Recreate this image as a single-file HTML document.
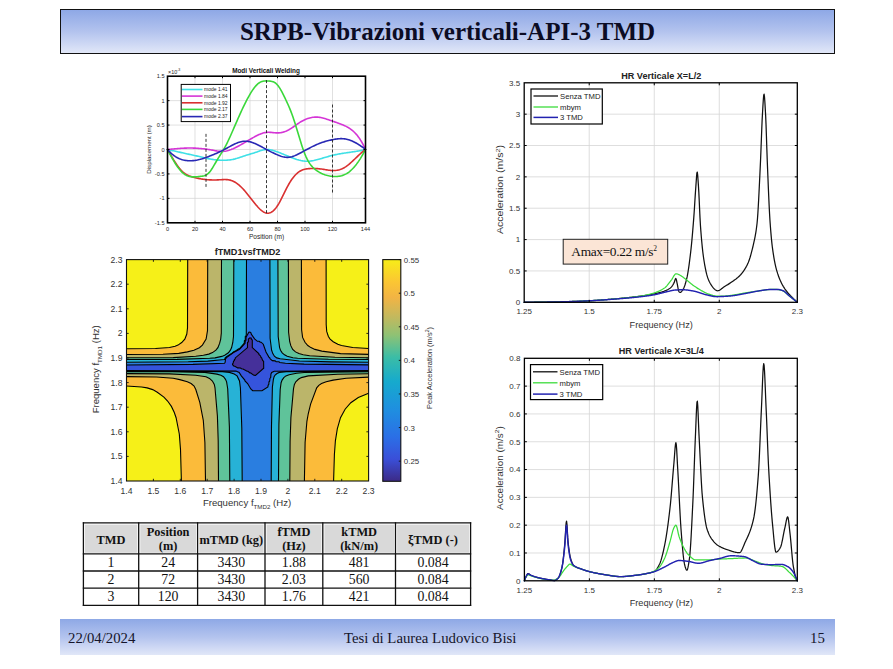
<!DOCTYPE html>
<html><head><meta charset="utf-8"><style>
html,body{margin:0;padding:0;background:#fff;}
#page{position:relative;width:893px;height:669px;overflow:hidden;background:#fff;}
.bar{position:absolute;left:60px;width:775px;background:linear-gradient(to bottom,#8ea8e6 0%,#b3c3ee 50%,#e1e7f8 100%);}
#title{top:9px;height:45px;box-sizing:border-box;border:1.6px solid #111;}
#title span{position:absolute;left:0;right:0;top:7.5px;text-align:center;font:bold 25px "Liberation Serif",serif;color:#0c0c24;line-height:28px;}
#footer{top:619px;height:36px;}
#footer span{position:absolute;top:10px;font:14.8px "Liberation Serif",serif;color:#15152a;line-height:18px;}
svg{position:absolute;left:0;top:0;}
</style></head><body><div id="page">
<div class="bar" id="title"><span>SRPB-Vibrazioni verticali-API-3 TMD</span></div>
<div class="bar" id="footer"><span style="left:8px">22/04/2024</span><span style="left:284px">Tesi di Laurea Ludovico Bisi</span><span style="left:750px">15</span></div>
<svg width="893" height="669" viewBox="0 0 893 669">
<rect x="167.5" y="76.2" width="198.0" height="146.60000000000002" fill="#fff"/>
<line x1="195" y1="76.2" x2="195" y2="222.8" stroke="#d2d2d2" stroke-width="0.7"/>
<line x1="222.5" y1="76.2" x2="222.5" y2="222.8" stroke="#d2d2d2" stroke-width="0.7"/>
<line x1="250" y1="76.2" x2="250" y2="222.8" stroke="#d2d2d2" stroke-width="0.7"/>
<line x1="277.5" y1="76.2" x2="277.5" y2="222.8" stroke="#d2d2d2" stroke-width="0.7"/>
<line x1="305" y1="76.2" x2="305" y2="222.8" stroke="#d2d2d2" stroke-width="0.7"/>
<line x1="332.5" y1="76.2" x2="332.5" y2="222.8" stroke="#d2d2d2" stroke-width="0.7"/>
<line x1="167.5" y1="198.37" x2="365.5" y2="198.37" stroke="#d2d2d2" stroke-width="0.7"/>
<line x1="167.5" y1="173.93" x2="365.5" y2="173.93" stroke="#d2d2d2" stroke-width="0.7"/>
<line x1="167.5" y1="149.5" x2="365.5" y2="149.5" stroke="#d2d2d2" stroke-width="0.7"/>
<line x1="167.5" y1="125.07" x2="365.5" y2="125.07" stroke="#d2d2d2" stroke-width="0.7"/>
<line x1="167.5" y1="100.63" x2="365.5" y2="100.63" stroke="#d2d2d2" stroke-width="0.7"/>
<path d="M167.5,149.5 L168.49,149.72 L169.49,149.94 L170.48,150.16 L171.48,150.38 L172.47,150.6 L173.47,150.82 L174.46,151.04 L175.46,151.26 L176.45,151.49 L177.45,151.71 L178.44,151.93 L179.44,152.15 L180.43,152.38 L181.43,152.6 L182.42,152.82 L183.42,153.04 L184.41,153.27 L185.41,153.49 L186.4,153.71 L187.4,153.93 L188.39,154.14 L189.39,154.36 L190.38,154.58 L191.38,154.8 L192.37,155.01 L193.37,155.23 L194.36,155.44 L195.36,155.66 L196.35,155.88 L197.35,156.11 L198.34,156.33 L199.34,156.56 L200.33,156.79 L201.33,157.03 L202.32,157.27 L203.32,157.51 L204.31,157.74 L205.31,157.98 L206.3,158.21 L207.3,158.44 L208.29,158.65 L209.29,158.86 L210.28,159.05 L211.28,159.24 L212.27,159.4 L213.27,159.55 L214.26,159.69 L215.26,159.81 L216.25,159.91 L217.25,160 L218.24,160.08 L219.24,160.14 L220.23,160.19 L221.23,160.22 L222.22,160.25 L223.22,160.26 L224.21,160.25 L225.21,160.23 L226.2,160.2 L227.2,160.14 L228.19,160.07 L229.19,159.97 L230.18,159.85 L231.18,159.71 L232.17,159.54 L233.17,159.35 L234.16,159.12 L235.16,158.87 L236.15,158.59 L237.15,158.3 L238.14,157.98 L239.14,157.66 L240.13,157.33 L241.13,156.99 L242.12,156.65 L243.12,156.31 L244.11,155.98 L245.11,155.66 L246.1,155.34 L247.1,155.04 L248.09,154.74 L249.09,154.44 L250.08,154.14 L251.08,153.84 L252.07,153.54 L253.07,153.23 L254.06,152.91 L255.06,152.58 L256.05,152.24 L257.05,151.89 L258.04,151.54 L259.04,151.19 L260.03,150.86 L261.03,150.55 L262.02,150.26 L263.02,150.01 L264.01,149.8 L265.01,149.63 L266,149.53 L267,149.49 L267.99,149.51 L268.99,149.59 L269.98,149.73 L270.98,149.92 L271.97,150.14 L272.97,150.41 L273.96,150.71 L274.96,151.03 L275.95,151.38 L276.95,151.74 L277.94,152.11 L278.94,152.49 L279.93,152.87 L280.93,153.26 L281.92,153.66 L282.92,154.06 L283.91,154.46 L284.91,154.87 L285.9,155.27 L286.9,155.68 L287.89,156.09 L288.89,156.5 L289.88,156.91 L290.88,157.31 L291.87,157.71 L292.87,158.09 L293.86,158.47 L294.86,158.83 L295.85,159.17 L296.85,159.5 L297.84,159.8 L298.84,160.08 L299.83,160.33 L300.83,160.56 L301.82,160.75 L302.82,160.91 L303.81,161.04 L304.81,161.14 L305.8,161.21 L306.8,161.23 L307.79,161.23 L308.79,161.18 L309.78,161.1 L310.78,160.99 L311.77,160.85 L312.77,160.69 L313.76,160.5 L314.76,160.28 L315.75,160.05 L316.75,159.81 L317.74,159.55 L318.74,159.28 L319.73,159 L320.73,158.71 L321.72,158.42 L322.72,158.13 L323.71,157.84 L324.71,157.54 L325.7,157.24 L326.7,156.95 L327.69,156.66 L328.69,156.38 L329.68,156.1 L330.68,155.83 L331.67,155.57 L332.67,155.32 L333.66,155.09 L334.66,154.86 L335.65,154.65 L336.65,154.44 L337.64,154.25 L338.64,154.06 L339.63,153.88 L340.63,153.71 L341.62,153.54 L342.62,153.38 L343.61,153.23 L344.61,153.07 L345.6,152.93 L346.6,152.78 L347.59,152.63 L348.59,152.49 L349.58,152.35 L350.58,152.21 L351.57,152.06 L352.57,151.91 L353.56,151.77 L354.56,151.61 L355.55,151.46 L356.55,151.29 L357.54,151.13 L358.54,150.95 L359.53,150.77 L360.53,150.59 L361.52,150.39 L362.52,150.18 L363.51,149.97 L364.51,149.74 L365.5,149.5" fill="none" stroke="#3fe0e6" stroke-width="1.6" stroke-linejoin="round" stroke-linecap="round" />
<path d="M167.5,149.5 L168.49,149.41 L169.49,149.32 L170.48,149.22 L171.48,149.13 L172.47,149.04 L173.47,148.95 L174.46,148.86 L175.46,148.77 L176.45,148.69 L177.45,148.61 L178.44,148.53 L179.44,148.45 L180.43,148.38 L181.43,148.32 L182.42,148.26 L183.42,148.21 L184.41,148.16 L185.41,148.12 L186.4,148.08 L187.4,148.06 L188.39,148.04 L189.39,148.03 L190.38,148.04 L191.38,148.05 L192.37,148.06 L193.37,148.09 L194.36,148.13 L195.36,148.17 L196.35,148.22 L197.35,148.28 L198.34,148.35 L199.34,148.43 L200.33,148.51 L201.33,148.6 L202.32,148.69 L203.32,148.8 L204.31,148.91 L205.31,149.03 L206.3,149.16 L207.3,149.3 L208.29,149.44 L209.29,149.6 L210.28,149.77 L211.28,149.95 L212.27,150.14 L213.27,150.33 L214.26,150.53 L215.26,150.72 L216.25,150.9 L217.25,151.07 L218.24,151.21 L219.24,151.33 L220.23,151.41 L221.23,151.46 L222.22,151.46 L223.22,151.42 L224.21,151.32 L225.21,151.18 L226.2,150.99 L227.2,150.76 L228.19,150.49 L229.19,150.19 L230.18,149.85 L231.18,149.49 L232.17,149.09 L233.17,148.67 L234.16,148.22 L235.16,147.76 L236.15,147.27 L237.15,146.77 L238.14,146.25 L239.14,145.72 L240.13,145.17 L241.13,144.61 L242.12,144.05 L243.12,143.47 L244.11,142.89 L245.11,142.3 L246.1,141.71 L247.1,141.12 L248.09,140.52 L249.09,139.93 L250.08,139.35 L251.08,138.77 L252.07,138.19 L253.07,137.63 L254.06,137.08 L255.06,136.54 L256.05,136.02 L257.05,135.51 L258.04,135.03 L259.04,134.57 L260.03,134.15 L261.03,133.75 L262.02,133.4 L263.02,133.09 L264.01,132.82 L265.01,132.61 L266,132.45 L267,132.35 L267.99,132.31 L268.99,132.32 L269.98,132.36 L270.98,132.42 L271.97,132.51 L272.97,132.61 L273.96,132.7 L274.96,132.78 L275.95,132.85 L276.95,132.88 L277.94,132.88 L278.94,132.83 L279.93,132.73 L280.93,132.59 L281.92,132.4 L282.92,132.17 L283.91,131.89 L284.91,131.56 L285.9,131.18 L286.9,130.75 L287.89,130.27 L288.89,129.74 L289.88,129.16 L290.88,128.55 L291.87,127.9 L292.87,127.22 L293.86,126.53 L294.86,125.82 L295.85,125.12 L296.85,124.41 L297.84,123.72 L298.84,123.06 L299.83,122.41 L300.83,121.8 L301.82,121.23 L302.82,120.68 L303.81,120.18 L304.81,119.7 L305.8,119.27 L306.8,118.87 L307.79,118.51 L308.79,118.19 L309.78,117.91 L310.78,117.67 L311.77,117.48 L312.77,117.32 L313.76,117.2 L314.76,117.13 L315.75,117.1 L316.75,117.11 L317.74,117.15 L318.74,117.25 L319.73,117.38 L320.73,117.55 L321.72,117.75 L322.72,117.99 L323.71,118.25 L324.71,118.53 L325.7,118.83 L326.7,119.15 L327.69,119.48 L328.69,119.82 L329.68,120.16 L330.68,120.5 L331.67,120.84 L332.67,121.18 L333.66,121.52 L334.66,121.87 L335.65,122.22 L336.65,122.57 L337.64,122.93 L338.64,123.3 L339.63,123.67 L340.63,124.04 L341.62,124.43 L342.62,124.82 L343.61,125.24 L344.61,125.67 L345.6,126.14 L346.6,126.64 L347.59,127.17 L348.59,127.75 L349.58,128.38 L350.58,129.07 L351.57,129.81 L352.57,130.62 L353.56,131.5 L354.56,132.46 L355.55,133.5 L356.55,134.62 L357.54,135.84 L358.54,137.15 L359.53,138.56 L360.53,140.09 L361.52,141.72 L362.52,143.48 L363.51,145.35 L364.51,147.36 L365.5,149.5" fill="none" stroke="#d535d6" stroke-width="1.6" stroke-linejoin="round" stroke-linecap="round" />
<path d="M167.5,149.5 L168.49,151.23 L169.49,152.96 L170.48,154.67 L171.48,156.35 L172.47,158.01 L173.47,159.63 L174.46,161.21 L175.46,162.75 L176.45,164.22 L177.45,165.64 L178.44,166.99 L179.44,168.26 L180.43,169.45 L181.43,170.55 L182.42,171.56 L183.42,172.47 L184.41,173.28 L185.41,173.97 L186.4,174.58 L187.4,175.1 L188.39,175.55 L189.39,175.95 L190.38,176.29 L191.38,176.61 L192.37,176.9 L193.37,177.18 L194.36,177.45 L195.36,177.71 L196.35,177.95 L197.35,178.18 L198.34,178.4 L199.34,178.6 L200.33,178.79 L201.33,178.96 L202.32,179.12 L203.32,179.26 L204.31,179.39 L205.31,179.51 L206.3,179.61 L207.3,179.69 L208.29,179.77 L209.29,179.83 L210.28,179.88 L211.28,179.92 L212.27,179.94 L213.27,179.96 L214.26,179.96 L215.26,179.95 L216.25,179.94 L217.25,179.91 L218.24,179.87 L219.24,179.82 L220.23,179.77 L221.23,179.71 L222.22,179.65 L223.22,179.6 L224.21,179.57 L225.21,179.56 L226.2,179.58 L227.2,179.64 L228.19,179.75 L229.19,179.91 L230.18,180.13 L231.18,180.42 L232.17,180.78 L233.17,181.21 L234.16,181.71 L235.16,182.28 L236.15,182.91 L237.15,183.6 L238.14,184.36 L239.14,185.18 L240.13,186.06 L241.13,187 L242.12,188 L243.12,189.04 L244.11,190.14 L245.11,191.28 L246.1,192.45 L247.1,193.66 L248.09,194.89 L249.09,196.14 L250.08,197.4 L251.08,198.67 L252.07,199.94 L253.07,201.22 L254.06,202.48 L255.06,203.71 L256.05,204.92 L257.05,206.09 L258.04,207.2 L259.04,208.25 L260.03,209.23 L261.03,210.12 L262.02,210.92 L263.02,211.61 L264.01,212.19 L265.01,212.64 L266,212.97 L267,213.15 L267.99,213.19 L268.99,213.08 L269.98,212.81 L270.98,212.39 L271.97,211.8 L272.97,211.06 L273.96,210.16 L274.96,209.11 L275.95,207.89 L276.95,206.52 L277.94,205 L278.94,203.33 L279.93,201.54 L280.93,199.66 L281.92,197.7 L282.92,195.7 L283.91,193.67 L284.91,191.64 L285.9,189.63 L286.9,187.67 L287.89,185.79 L288.89,184 L289.88,182.32 L290.88,180.75 L291.87,179.29 L292.87,177.93 L293.86,176.68 L294.86,175.53 L295.85,174.48 L296.85,173.54 L297.84,172.69 L298.84,171.94 L299.83,171.28 L300.83,170.72 L301.82,170.24 L302.82,169.84 L303.81,169.51 L304.81,169.24 L305.8,169.03 L306.8,168.86 L307.79,168.74 L308.79,168.65 L309.78,168.59 L310.78,168.55 L311.77,168.52 L312.77,168.51 L313.76,168.51 L314.76,168.52 L315.75,168.55 L316.75,168.6 L317.74,168.66 L318.74,168.74 L319.73,168.84 L320.73,168.95 L321.72,169.08 L322.72,169.22 L323.71,169.38 L324.71,169.54 L325.7,169.71 L326.7,169.87 L327.69,170.02 L328.69,170.17 L329.68,170.29 L330.68,170.4 L331.67,170.47 L332.67,170.52 L333.66,170.53 L334.66,170.5 L335.65,170.43 L336.65,170.31 L337.64,170.15 L338.64,169.93 L339.63,169.67 L340.63,169.34 L341.62,168.96 L342.62,168.52 L343.61,168.01 L344.61,167.44 L345.6,166.8 L346.6,166.11 L347.59,165.37 L348.59,164.58 L349.58,163.76 L350.58,162.9 L351.57,162.01 L352.57,161.1 L353.56,160.16 L354.56,159.22 L355.55,158.27 L356.55,157.31 L357.54,156.36 L358.54,155.42 L359.53,154.49 L360.53,153.58 L361.52,152.69 L362.52,151.84 L363.51,151.02 L364.51,150.24 L365.5,149.5" fill="none" stroke="#d93030" stroke-width="1.6" stroke-linejoin="round" stroke-linecap="round" />
<path d="M167.5,149.5 L168.49,151.41 L169.49,153.3 L170.48,155.16 L171.48,156.97 L172.47,158.74 L173.47,160.45 L174.46,162.11 L175.46,163.71 L176.45,165.23 L177.45,166.68 L178.44,168.05 L179.44,169.34 L180.43,170.53 L181.43,171.62 L182.42,172.6 L183.42,173.48 L184.41,174.23 L185.41,174.88 L186.4,175.41 L187.4,175.85 L188.39,176.19 L189.39,176.46 L190.38,176.66 L191.38,176.79 L192.37,176.87 L193.37,176.91 L194.36,176.91 L195.36,176.87 L196.35,176.81 L197.35,176.72 L198.34,176.62 L199.34,176.51 L200.33,176.4 L201.33,176.28 L202.32,176.14 L203.32,175.95 L204.31,175.69 L205.31,175.33 L206.3,174.85 L207.3,174.21 L208.29,173.4 L209.29,172.38 L210.28,171.16 L211.28,169.78 L212.27,168.26 L213.27,166.64 L214.26,164.96 L215.26,163.24 L216.25,161.52 L217.25,159.83 L218.24,158.2 L219.24,156.59 L220.23,155 L221.23,153.41 L222.22,151.8 L223.22,150.15 L224.21,148.43 L225.21,146.64 L226.2,144.76 L227.2,142.8 L228.19,140.75 L229.19,138.64 L230.18,136.47 L231.18,134.26 L232.17,132.01 L233.17,129.73 L234.16,127.44 L235.16,125.14 L236.15,122.85 L237.15,120.56 L238.14,118.3 L239.14,116.06 L240.13,113.85 L241.13,111.67 L242.12,109.52 L243.12,107.42 L244.11,105.35 L245.11,103.33 L246.1,101.37 L247.1,99.45 L248.09,97.6 L249.09,95.81 L250.08,94.1 L251.08,92.45 L252.07,90.89 L253.07,89.42 L254.06,88.05 L255.06,86.78 L256.05,85.62 L257.05,84.59 L258.04,83.7 L259.04,82.95 L260.03,82.34 L261.03,81.86 L262.02,81.49 L263.02,81.22 L264.01,81.05 L265.01,80.95 L266,80.92 L267,80.94 L267.99,80.99 L268.99,81.07 L269.98,81.15 L270.98,81.26 L271.97,81.43 L272.97,81.7 L273.96,82.11 L274.96,82.69 L275.95,83.46 L276.95,84.42 L277.94,85.57 L278.94,86.9 L279.93,88.39 L280.93,90.05 L281.92,91.86 L282.92,93.78 L283.91,95.79 L284.91,97.87 L285.9,99.98 L286.9,102.11 L287.89,104.29 L288.89,106.55 L289.88,108.9 L290.88,111.39 L291.87,114.03 L292.87,116.83 L293.86,119.77 L294.86,122.82 L295.85,125.96 L296.85,129.18 L297.84,132.44 L298.84,135.73 L299.83,139.01 L300.83,142.25 L301.82,145.4 L302.82,148.42 L303.81,151.26 L304.81,153.9 L305.8,156.29 L306.8,158.44 L307.79,160.36 L308.79,162.08 L309.78,163.6 L310.78,164.96 L311.77,166.16 L312.77,167.23 L313.76,168.19 L314.76,169.05 L315.75,169.84 L316.75,170.56 L317.74,171.24 L318.74,171.86 L319.73,172.44 L320.73,172.97 L321.72,173.46 L322.72,173.91 L323.71,174.31 L324.71,174.68 L325.7,175.01 L326.7,175.31 L327.69,175.58 L328.69,175.82 L329.68,176.02 L330.68,176.2 L331.67,176.33 L332.67,176.44 L333.66,176.51 L334.66,176.54 L335.65,176.54 L336.65,176.49 L337.64,176.41 L338.64,176.3 L339.63,176.14 L340.63,175.93 L341.62,175.68 L342.62,175.38 L343.61,175.02 L344.61,174.6 L345.6,174.12 L346.6,173.58 L347.59,172.97 L348.59,172.29 L349.58,171.53 L350.58,170.69 L351.57,169.78 L352.57,168.8 L353.56,167.74 L354.56,166.61 L355.55,165.41 L356.55,164.13 L357.54,162.78 L358.54,161.36 L359.53,159.87 L360.53,158.32 L361.52,156.69 L362.52,154.99 L363.51,153.23 L364.51,151.4 L365.5,149.5" fill="none" stroke="#3ad83a" stroke-width="1.6" stroke-linejoin="round" stroke-linecap="round" />
<path d="M167.5,149.5 L168.49,150.63 L169.49,151.69 L170.48,152.67 L171.48,153.59 L172.47,154.44 L173.47,155.23 L174.46,155.95 L175.46,156.62 L176.45,157.22 L177.45,157.77 L178.44,158.27 L179.44,158.71 L180.43,159.11 L181.43,159.45 L182.42,159.75 L183.42,160.01 L184.41,160.22 L185.41,160.4 L186.4,160.53 L187.4,160.64 L188.39,160.7 L189.39,160.74 L190.38,160.74 L191.38,160.72 L192.37,160.67 L193.37,160.59 L194.36,160.48 L195.36,160.35 L196.35,160.19 L197.35,160.01 L198.34,159.8 L199.34,159.57 L200.33,159.32 L201.33,159.04 L202.32,158.75 L203.32,158.43 L204.31,158.1 L205.31,157.75 L206.3,157.39 L207.3,157.02 L208.29,156.64 L209.29,156.25 L210.28,155.85 L211.28,155.45 L212.27,155.05 L213.27,154.64 L214.26,154.23 L215.26,153.81 L216.25,153.39 L217.25,152.95 L218.24,152.51 L219.24,152.06 L220.23,151.59 L221.23,151.11 L222.22,150.62 L223.22,150.11 L224.21,149.59 L225.21,149.05 L226.2,148.51 L227.2,147.97 L228.19,147.42 L229.19,146.88 L230.18,146.34 L231.18,145.81 L232.17,145.29 L233.17,144.78 L234.16,144.29 L235.16,143.82 L236.15,143.38 L237.15,142.96 L238.14,142.58 L239.14,142.24 L240.13,141.93 L241.13,141.68 L242.12,141.47 L243.12,141.31 L244.11,141.21 L245.11,141.18 L246.1,141.2 L247.1,141.28 L248.09,141.42 L249.09,141.6 L250.08,141.84 L251.08,142.11 L252.07,142.42 L253.07,142.77 L254.06,143.16 L255.06,143.57 L256.05,144.01 L257.05,144.47 L258.04,144.95 L259.04,145.46 L260.03,145.97 L261.03,146.5 L262.02,147.04 L263.02,147.59 L264.01,148.13 L265.01,148.68 L266,149.23 L267,149.77 L267.99,150.3 L268.99,150.83 L269.98,151.35 L270.98,151.85 L271.97,152.35 L272.97,152.84 L273.96,153.31 L274.96,153.77 L275.95,154.21 L276.95,154.64 L277.94,155.06 L278.94,155.45 L279.93,155.83 L280.93,156.17 L281.92,156.48 L282.92,156.75 L283.91,156.98 L284.91,157.16 L285.9,157.28 L286.9,157.35 L287.89,157.35 L288.89,157.28 L289.88,157.15 L290.88,156.95 L291.87,156.69 L292.87,156.38 L293.86,156.03 L294.86,155.63 L295.85,155.2 L296.85,154.74 L297.84,154.25 L298.84,153.75 L299.83,153.24 L300.83,152.71 L301.82,152.18 L302.82,151.65 L303.81,151.11 L304.81,150.58 L305.8,150.04 L306.8,149.5 L307.79,148.97 L308.79,148.44 L309.78,147.92 L310.78,147.4 L311.77,146.9 L312.77,146.4 L313.76,145.92 L314.76,145.45 L315.75,144.99 L316.75,144.55 L317.74,144.12 L318.74,143.71 L319.73,143.32 L320.73,142.94 L321.72,142.58 L322.72,142.24 L323.71,141.92 L324.71,141.62 L325.7,141.33 L326.7,141.06 L327.69,140.8 L328.69,140.56 L329.68,140.33 L330.68,140.11 L331.67,139.9 L332.67,139.69 L333.66,139.5 L334.66,139.32 L335.65,139.15 L336.65,139.01 L337.64,138.88 L338.64,138.78 L339.63,138.71 L340.63,138.66 L341.62,138.66 L342.62,138.69 L343.61,138.76 L344.61,138.87 L345.6,139.03 L346.6,139.23 L347.59,139.47 L348.59,139.75 L349.58,140.07 L350.58,140.43 L351.57,140.82 L352.57,141.24 L353.56,141.7 L354.56,142.2 L355.55,142.72 L356.55,143.28 L357.54,143.87 L358.54,144.48 L359.53,145.13 L360.53,145.79 L361.52,146.49 L362.52,147.21 L363.51,147.95 L364.51,148.71 L365.5,149.5" fill="none" stroke="#2828b4" stroke-width="1.6" stroke-linejoin="round" stroke-linecap="round" />
<line x1="206" y1="133.86" x2="206" y2="187.62" stroke="#222" stroke-width="0.9" stroke-dasharray="3,2"/>
<line x1="266.5" y1="80.11" x2="266.5" y2="214" stroke="#222" stroke-width="0.9" stroke-dasharray="3,2"/>
<line x1="332.5" y1="104.54" x2="332.5" y2="193.48" stroke="#222" stroke-width="0.9" stroke-dasharray="3,2"/>
<line x1="195" y1="222.8" x2="195" y2="220.8" stroke="#000" stroke-width="1"/>
<line x1="195" y1="76.2" x2="195" y2="78.2" stroke="#000" stroke-width="1"/>
<line x1="222.5" y1="222.8" x2="222.5" y2="220.8" stroke="#000" stroke-width="1"/>
<line x1="222.5" y1="76.2" x2="222.5" y2="78.2" stroke="#000" stroke-width="1"/>
<line x1="250" y1="222.8" x2="250" y2="220.8" stroke="#000" stroke-width="1"/>
<line x1="250" y1="76.2" x2="250" y2="78.2" stroke="#000" stroke-width="1"/>
<line x1="277.5" y1="222.8" x2="277.5" y2="220.8" stroke="#000" stroke-width="1"/>
<line x1="277.5" y1="76.2" x2="277.5" y2="78.2" stroke="#000" stroke-width="1"/>
<line x1="305" y1="222.8" x2="305" y2="220.8" stroke="#000" stroke-width="1"/>
<line x1="305" y1="76.2" x2="305" y2="78.2" stroke="#000" stroke-width="1"/>
<line x1="332.5" y1="222.8" x2="332.5" y2="220.8" stroke="#000" stroke-width="1"/>
<line x1="332.5" y1="76.2" x2="332.5" y2="78.2" stroke="#000" stroke-width="1"/>
<line x1="167.5" y1="198.37" x2="169.5" y2="198.37" stroke="#000" stroke-width="1"/>
<line x1="365.5" y1="198.37" x2="363.5" y2="198.37" stroke="#000" stroke-width="1"/>
<line x1="167.5" y1="173.93" x2="169.5" y2="173.93" stroke="#000" stroke-width="1"/>
<line x1="365.5" y1="173.93" x2="363.5" y2="173.93" stroke="#000" stroke-width="1"/>
<line x1="167.5" y1="149.5" x2="169.5" y2="149.5" stroke="#000" stroke-width="1"/>
<line x1="365.5" y1="149.5" x2="363.5" y2="149.5" stroke="#000" stroke-width="1"/>
<line x1="167.5" y1="125.07" x2="169.5" y2="125.07" stroke="#000" stroke-width="1"/>
<line x1="365.5" y1="125.07" x2="363.5" y2="125.07" stroke="#000" stroke-width="1"/>
<line x1="167.5" y1="100.63" x2="169.5" y2="100.63" stroke="#000" stroke-width="1"/>
<line x1="365.5" y1="100.63" x2="363.5" y2="100.63" stroke="#000" stroke-width="1"/>
<rect x="167.5" y="76.2" width="198.0" height="146.60000000000002" fill="none" stroke="#000" stroke-width="1.6"/>
<text x="167.5" y="231" font-size="5.6" text-anchor="middle" font-weight="normal" fill="#262626" font-family='"Liberation Sans", sans-serif' >0</text>
<text x="195" y="231" font-size="5.6" text-anchor="middle" font-weight="normal" fill="#262626" font-family='"Liberation Sans", sans-serif' >20</text>
<text x="222.5" y="231" font-size="5.6" text-anchor="middle" font-weight="normal" fill="#262626" font-family='"Liberation Sans", sans-serif' >40</text>
<text x="250" y="231" font-size="5.6" text-anchor="middle" font-weight="normal" fill="#262626" font-family='"Liberation Sans", sans-serif' >60</text>
<text x="277.5" y="231" font-size="5.6" text-anchor="middle" font-weight="normal" fill="#262626" font-family='"Liberation Sans", sans-serif' >80</text>
<text x="305" y="231" font-size="5.6" text-anchor="middle" font-weight="normal" fill="#262626" font-family='"Liberation Sans", sans-serif' >100</text>
<text x="332.5" y="231" font-size="5.6" text-anchor="middle" font-weight="normal" fill="#262626" font-family='"Liberation Sans", sans-serif' >120</text>
<text x="365.5" y="231" font-size="5.6" text-anchor="middle" font-weight="normal" fill="#262626" font-family='"Liberation Sans", sans-serif' >144</text>
<text x="164.5" y="78.2" font-size="5.6" text-anchor="end" font-weight="normal" fill="#262626" font-family='"Liberation Sans", sans-serif' >1.5</text>
<text x="164.5" y="102.63" font-size="5.6" text-anchor="end" font-weight="normal" fill="#262626" font-family='"Liberation Sans", sans-serif' >1</text>
<text x="164.5" y="127.07" font-size="5.6" text-anchor="end" font-weight="normal" fill="#262626" font-family='"Liberation Sans", sans-serif' >0.5</text>
<text x="164.5" y="151.5" font-size="5.6" text-anchor="end" font-weight="normal" fill="#262626" font-family='"Liberation Sans", sans-serif' >0</text>
<text x="164.5" y="175.93" font-size="5.6" text-anchor="end" font-weight="normal" fill="#262626" font-family='"Liberation Sans", sans-serif' >-0.5</text>
<text x="164.5" y="200.37" font-size="5.6" text-anchor="end" font-weight="normal" fill="#262626" font-family='"Liberation Sans", sans-serif' >-1</text>
<text x="164.5" y="224.8" font-size="5.6" text-anchor="end" font-weight="normal" fill="#262626" font-family='"Liberation Sans", sans-serif' >-1.5</text>
<text x="168" y="73.5" font-size="5.4" text-anchor="start" font-weight="normal" fill="#262626" font-family='"Liberation Sans", sans-serif' >&#215;10<tspan font-size="3.6" dy="-2.4">-3</tspan></text>
<text x="266.5" y="238.8" font-size="6.6" text-anchor="middle" font-weight="normal" fill="#262626" font-family='"Liberation Sans", sans-serif' >Position (m)</text>
<text x="0" y="0" font-size="6.2" text-anchor="middle" font-weight="normal" fill="#262626" font-family='"Liberation Sans", sans-serif' transform="translate(150.5,149.5) rotate(-90)">Displacement (m)</text>
<text x="266" y="73.4" font-size="6.4" text-anchor="middle" font-weight="bold" fill="#111" font-family='"Liberation Sans", sans-serif' >Modi Verticali Welding</text>
<rect x="181.2" y="84.4" width="49.3" height="37.2" fill="#fff" stroke="#000" stroke-width="1"/>
<line x1="182" y1="89.5" x2="202.5" y2="89.5" stroke="#3fe0e6" stroke-width="1.6"/>
<text x="204" y="91.3" font-size="5.0" text-anchor="start" font-weight="normal" fill="#222" font-family='"Liberation Sans", sans-serif' >mode 1.41</text>
<line x1="182" y1="96.1" x2="202.5" y2="96.1" stroke="#d535d6" stroke-width="1.6"/>
<text x="204" y="97.9" font-size="5.0" text-anchor="start" font-weight="normal" fill="#222" font-family='"Liberation Sans", sans-serif' >mode 1.84</text>
<line x1="182" y1="102.8" x2="202.5" y2="102.8" stroke="#d93030" stroke-width="1.6"/>
<text x="204" y="104.6" font-size="5.0" text-anchor="start" font-weight="normal" fill="#222" font-family='"Liberation Sans", sans-serif' >mode 1.92</text>
<line x1="182" y1="109.4" x2="202.5" y2="109.4" stroke="#3ad83a" stroke-width="1.6"/>
<text x="204" y="111.2" font-size="5.0" text-anchor="start" font-weight="normal" fill="#222" font-family='"Liberation Sans", sans-serif' >mode 2.17</text>
<line x1="182" y1="116.6" x2="202.5" y2="116.6" stroke="#2828b4" stroke-width="1.6"/>
<text x="204" y="118.4" font-size="5.0" text-anchor="start" font-weight="normal" fill="#222" font-family='"Liberation Sans", sans-serif' >mode 2.37</text>
<clipPath id="cclip"><rect x="126.5" y="259.6" width="242.10000000000002" height="221.39999999999998"/></clipPath>
<g clip-path="url(#cclip)">
<rect x="126.5" y="259.6" width="242.10000000000002" height="221.39999999999998" fill="#f6f018"/>
<path d="M253.6,375.1 255.5,375.5 263.7,368.2 263.6,361.3 262.6,360.5 261.6,357.9 260.7,357.1 260.7,356.2 258.9,354.5 258.8,353.6 252.3,347.6 252.3,340.0 251.3,339.1 251.3,338.2 249.9,337.8 248.4,339.1 248.4,341.7 247.5,342.5 247.5,347.6 235.3,357.9 235.3,358.8 233.5,361.3 233.2,363.0 232.5,363.9 232.6,364.7 234.0,366.2 234.9,366.2 237.7,367.9 240.5,368.0 241.5,368.8 243.0,369.0 247.1,371.2 248.0,371.3 249.9,372.9 250.8,373.0 253.5,375.0Z" fill="#45309a" stroke="#45309a" stroke-width="0.3" fill-rule="evenodd"/>
<path d="M252.7,390.7 262.0,390.7 266.7,388.0 267.9,387.0 268.1,385.3 268.8,384.4 268.8,382.7 269.7,381.0 269.9,378.4 270.7,377.6 270.9,374.1 271.7,372.4 274.2,371.2 368.6,370.6 368.6,364.9 304.1,364.1 285.4,363.2 279.8,362.5 278.9,361.8 276.1,361.7 275.1,360.9 272.3,360.6 270.0,358.8 269.8,357.9 268.9,357.1 266.0,351.9 263.3,344.2 261.1,342.2 260.2,342.2 259.2,341.3 257.4,341.3 254.6,338.8 251.2,334.0 251.1,333.1 249.9,332.1 249.0,332.2 246.9,335.7 246.0,337.4 246.0,340.0 245.1,341.7 245.1,343.4 239.6,349.2 233.1,352.7 226.5,357.6 225.5,358.8 225.2,362.2 224.6,363.2 192.9,364.4 126.5,365.0 126.5,370.5 235.9,371.1 239.2,372.4 241.3,375.9 244.8,380.1 245.0,381.0 247.6,383.5 250.5,388.7 252.3,390.4ZM253.5,375.0 250.8,373.0 249.9,372.9 248.0,371.3 247.1,371.2 245.0,369.9 241.5,368.8 240.5,368.0 237.7,367.9 234.9,366.2 234.0,366.2 232.6,364.7 232.5,363.9 233.2,363.0 233.5,361.3 234.4,360.5 234.4,359.6 235.3,358.8 235.3,357.9 247.5,347.6 247.5,342.5 248.0,342.0 248.4,341.7 248.4,339.1 249.9,337.8 251.3,338.2 251.3,339.1 252.3,340.0 252.3,347.6 258.8,353.6 258.9,354.5 260.7,356.2 260.7,357.1 261.6,357.9 262.6,360.5 263.6,361.3 263.7,368.2 255.5,375.5 253.6,375.1Z" fill="#3554dc" stroke="#3554dc" stroke-width="0.3" fill-rule="evenodd"/>
<path d="M242.4,481.0 271.2,481.0 271.5,424.6 272.5,386.1 273.8,377.6 274.5,375.9 276.1,374.2 279.4,372.4 286.2,371.6 368.6,371.2 368.6,370.6 274.2,371.2 271.7,372.4 270.9,374.1 270.7,377.6 269.9,378.4 269.7,381.0 268.8,382.7 268.8,384.4 268.1,385.3 267.9,387.0 266.7,388.0 262.0,390.7 252.7,390.7 250.5,388.7 247.6,383.5 245.0,381.0 244.8,380.1 241.3,375.9 239.2,372.4 235.9,371.1 126.5,370.5 126.5,371.2 222.4,371.6 229.5,372.4 234.2,374.1 237.1,375.9 239.5,381.0 240.4,387.8 241.8,428.0 242.2,481.0ZM127.4,365.0 192.9,364.4 224.6,363.2 225.2,362.2 225.5,358.8 226.5,357.6 233.1,352.7 239.6,349.2 245.1,343.4 245.1,341.7 246.0,340.0 246.0,337.4 248.8,332.3 249.9,332.1 251.1,333.1 251.2,334.0 254.6,338.8 257.4,341.3 259.2,341.3 260.2,342.2 261.1,342.2 263.3,344.2 266.0,351.9 268.9,357.1 269.8,357.9 270.0,358.8 272.3,360.6 275.1,360.9 276.1,361.7 278.9,361.8 279.8,362.5 285.4,363.2 303.2,364.1 364.9,364.9 368.6,364.9 368.6,362.2 316.3,361.6 293.3,360.5 282.6,359.2 276.7,357.9 273.8,355.3 271.4,349.4 270.3,340.8 269.9,332.3 269.9,259.6 246.5,259.6 246.3,334.0 246.2,335.7 245.3,336.5 245.3,340.0 244.4,340.8 244.3,343.2 239.6,348.6 238.7,348.8 234.9,351.4 234.0,351.5 231.2,353.8 226.5,356.7 225.2,357.9 224.6,359.5 209.7,361.0 193.8,361.6 126.5,362.2 126.5,365.0Z" fill="#2a7ee0" stroke="#2a7ee0" stroke-width="0.3" fill-rule="evenodd"/>
<path d="M230.3,481.0 242.2,481.0 241.8,428.0 240.4,387.8 239.5,381.0 237.1,375.9 234.2,374.1 229.5,372.4 222.4,371.6 137.7,371.2 126.5,371.2 126.5,371.6 172.3,371.7 204.9,372.4 212.4,373.3 219.0,374.7 222.4,375.9 224.3,377.6 226.9,382.7 227.8,389.5 229.4,428.0 229.8,481.0ZM271.4,481.0 278.5,481.0 278.9,424.6 280.2,389.5 281.1,382.7 282.1,380.1 283.8,377.6 285.9,375.9 289.1,374.8 295.7,373.4 303.2,372.6 368.6,371.7 368.6,371.2 286.2,371.6 279.4,372.4 277.0,373.5 275.1,375.0 274.1,376.7 273.4,379.3 272.4,387.0 271.5,425.4 271.2,481.0ZM127.4,362.2 194.7,361.6 210.6,360.9 224.6,359.5 225.2,357.9 226.5,356.7 231.2,353.8 234.0,351.5 234.9,351.4 238.7,348.8 239.6,348.6 244.3,343.2 244.4,340.8 245.3,340.0 245.3,336.5 246.2,335.7 246.3,334.0 246.5,259.6 245.2,259.6 233.8,259.6 233.5,337.4 231.6,347.6 229.9,351.1 227.5,353.6 222.6,356.2 212.5,358.1 177.9,359.4 126.5,359.5 126.5,362.2ZM306.9,361.3 368.6,362.2 368.6,359.5 333.1,359.3 301.3,358.5 292.9,357.7 285.3,355.3 283.0,353.6 281.0,351.1 279.8,348.5 278.9,344.2 278.0,333.1 277.9,308.3 277.9,259.6 269.9,259.6 270.0,336.5 271.0,347.6 271.8,351.1 273.3,354.5 276.1,357.5 279.8,358.7 294.8,360.6 306.5,361.3Z" fill="#27b2d6" stroke="#27b2d6" stroke-width="0.3" fill-rule="evenodd"/>
<path d="M219.0,481.0 229.8,481.0 229.4,428.0 227.8,389.5 226.9,382.7 224.3,377.6 222.4,375.9 219.0,374.7 212.4,373.3 204.9,372.4 174.2,371.8 136.8,371.6 126.5,371.6 126.5,373.6 172.3,374.0 202.1,375.9 208.0,377.6 210.7,379.3 212.5,381.1 214.3,384.4 215.0,387.8 217.4,416.0 218.2,440.8 218.5,481.0ZM278.9,481.0 289.8,481.0 290.1,440.0 291.1,415.2 293.6,387.8 294.4,384.4 296.5,381.0 298.5,379.2 301.4,377.6 308.3,375.9 337.8,374.2 368.6,373.7 368.6,371.7 304.1,372.5 296.6,373.3 289.1,374.8 285.9,375.9 283.8,377.6 282.1,380.1 281.1,382.7 280.2,389.5 278.9,424.6 278.5,481.0ZM127.4,359.5 177.0,359.4 209.7,358.3 215.0,357.9 221.8,356.4 224.7,355.3 228.4,352.8 230.4,350.2 231.9,346.8 233.2,340.0 233.7,334.0 233.8,259.6 232.1,259.6 221.5,259.6 221.3,333.1 220.7,339.1 219.6,343.4 217.9,347.6 215.9,350.2 212.5,352.6 208.8,354.1 203.4,355.3 196.7,356.2 173.2,357.6 126.5,357.8 126.5,359.5ZM309.7,358.8 368.6,359.5 368.6,357.8 337.8,357.4 314.2,356.2 301.7,354.5 295.5,351.9 293.4,350.2 291.6,347.6 289.1,339.1 288.5,329.7 288.4,304.1 288.4,259.6 277.9,259.6 278.0,332.3 278.6,341.7 280.1,349.4 283.0,353.6 285.3,355.3 288.2,356.5 294.2,357.9 309.2,358.8Z" fill="#5fc39a" stroke="#5fc39a" stroke-width="0.3" fill-rule="evenodd"/>
<path d="M206.0,481.0 218.5,481.0 218.2,441.7 217.5,417.7 215.0,387.8 214.3,384.4 213.0,381.8 210.7,379.3 208.0,377.6 206.0,376.7 200.3,375.6 174.2,374.0 138.7,373.6 126.5,373.6 126.5,376.6 157.3,377.1 174.0,378.4 181.9,380.1 188.2,382.2 192.4,384.4 194.6,387.0 196.1,390.4 200.2,404.1 203.4,421.2 204.9,442.5 205.5,481.0ZM290.1,481.0 304.4,481.0 305.1,442.5 306.9,421.2 308.5,412.6 310.6,404.0 315.5,390.4 317.2,387.0 320.0,384.4 323.6,382.7 335.9,379.6 349.0,378.0 368.6,377.1 368.6,373.7 337.8,374.2 308.3,375.9 301.3,377.6 298.4,379.3 295.8,381.8 294.4,384.4 293.5,388.7 290.9,417.7 290.1,441.7 289.8,481.0ZM127.4,357.8 173.2,357.6 196.6,356.2 203.4,355.3 208.8,354.1 213.4,352.1 216.2,349.9 218.3,346.8 219.9,342.5 220.8,338.2 221.3,331.4 221.5,259.6 220.0,259.6 207.7,259.6 207.5,330.6 206.1,339.1 204.3,342.5 202.2,345.3 199.4,347.6 196.2,349.4 191.0,351.1 182.6,352.9 176.0,353.7 164.8,354.3 126.5,354.5 126.5,357.8ZM329.3,357.1 368.6,357.8 368.6,354.4 342.4,353.7 326.5,351.9 314.4,349.2 309.7,346.9 306.9,344.6 303.2,339.1 301.7,331.4 301.4,283.5 301.4,259.6 288.4,259.6 288.5,330.6 289.1,339.1 290.9,345.9 292.1,348.5 294.3,351.1 296.9,352.8 300.4,354.1 310.6,355.9 328.9,357.1Z" fill="#bbb56a" stroke="#bbb56a" stroke-width="0.3" fill-rule="evenodd"/>
<path d="M181.7,481.0 205.5,481.0 205.0,443.4 203.5,422.9 200.6,405.8 196.1,390.4 194.6,387.0 192.4,384.4 188.2,382.2 181.9,380.1 169.5,377.9 148.9,376.8 126.5,376.6 126.5,386.0 141.6,387.0 147.1,387.9 152.7,389.6 157.3,392.2 163.9,397.1 167.6,401.0 171.4,406.4 174.2,412.2 176.1,417.7 179.3,434.0 180.5,449.4 181.4,481.0ZM305.0,481.0 333.6,481.0 335.3,441.7 337.0,430.6 339.6,420.2 341.6,415.2 344.3,410.3 350.3,403.2 353.6,400.5 358.3,397.5 368.6,393.2 368.6,377.1 346.2,378.2 333.1,380.1 326.2,381.8 321.5,383.5 318.8,385.3 316.7,387.8 310.6,404.1 308.3,413.5 306.9,421.3 305.1,442.5 304.4,481.0ZM127.4,354.5 163.9,354.3 179.8,353.3 189.1,351.5 196.2,349.4 200.3,347.0 203.1,344.2 205.0,341.3 206.3,338.2 207.6,329.7 207.7,259.6 206.0,259.6 187.7,259.6 187.5,328.8 186.0,336.5 183.5,340.7 180.7,343.4 177.0,345.6 168.3,347.6 154.5,348.5 126.5,348.7 126.5,354.5ZM342.4,353.7 368.6,354.4 368.6,348.5 352.7,347.5 341.5,345.5 337.8,344.2 333.2,341.7 330.1,339.1 328.4,336.5 326.7,331.4 326.2,324.6 326.1,261.3 326.1,259.6 301.4,259.6 301.4,322.9 302.1,334.8 303.2,339.1 305.2,342.5 308.4,345.9 312.5,348.4 317.9,350.2 324.7,351.6 341.7,353.6Z" fill="#fbbb3a" stroke="#fbbb3a" stroke-width="0.3" fill-rule="evenodd"/>
<path d="M127.4,481.0 181.4,481.0 180.3,444.2 179.4,434.8 177.9,425.4 176.0,417.5 173.2,410.0 169.9,404.1 165.8,398.9 157.3,392.2 154.3,390.4 150.0,388.7 138.7,386.6 126.5,386.0 126.5,481.0ZM334.0,481.0 368.6,481.0 368.6,393.2 358.3,397.5 350.8,402.7 345.1,409.2 340.5,417.7 337.3,428.9 335.4,440.8 334.4,454.5 333.6,481.0ZM127.4,348.7 155.5,348.5 169.5,347.5 175.1,346.2 178.0,345.1 181.7,342.5 184.8,339.1 186.8,334.0 187.6,327.1 187.7,259.6 187.3,259.6 126.5,259.6 126.5,348.7ZM354.6,347.7 368.6,348.5 368.6,259.6 340.6,259.6 326.1,259.6 326.1,318.6 326.5,330.6 327.4,334.0 328.8,337.4 331.0,340.0 334.0,342.2 341.5,345.5 353.7,347.6Z" fill="#f6f018" stroke="#f6f018" stroke-width="0.3" fill-rule="evenodd"/>
<path d="M253.6,375.1 250.8,373.0 249.9,372.9 248.0,371.3 247.1,371.2 243.0,369.0 241.5,368.8 240.5,368.0 237.7,367.9 234.9,366.2 234.0,366.2 232.6,364.7 232.5,363.9 233.2,363.0 233.5,361.3 234.4,360.5 234.4,359.6 235.3,358.8 235.3,357.9 247.5,347.6 247.5,342.5 248.4,341.7 248.4,339.1 249.9,337.8 251.3,338.2 251.3,339.1 252.3,340.0 252.3,347.6 258.8,353.6 258.9,354.5 260.7,356.2 260.7,357.1 261.6,357.9 262.6,360.5 263.6,361.3 263.7,368.2 255.5,375.5 253.6,375.1" fill="none" stroke="#000" stroke-width="1.1"/>
<path d="M368.6,370.6 274.2,371.2 271.7,372.4 270.9,374.1 270.7,377.6 269.9,378.4 269.7,381.0 269.0,381.8 268.8,384.4 268.1,385.3 267.9,387.0 262.0,390.7 256.4,390.8 252.7,390.7 250.8,389.0 247.6,383.5 245.0,381.0 244.8,380.1 241.3,375.9 239.2,372.4 235.9,371.1 126.5,370.5" fill="none" stroke="#000" stroke-width="1.1"/>
<path d="M126.5,365.0 192.9,364.4 224.6,363.2 225.2,362.2 225.5,358.8 226.5,357.6 233.1,352.7 239.6,349.2 245.1,343.4 245.1,341.7 246.0,340.0 246.0,337.4 248.8,332.3 249.9,332.1 251.1,333.1 251.2,334.0 254.6,338.8 257.4,341.3 259.2,341.3 260.2,342.2 261.1,342.2 263.3,344.2 266.0,351.9 268.9,357.1 269.8,357.9 270.0,358.8 272.3,360.6 275.1,360.9 276.1,361.7 278.9,361.8 279.8,362.5 285.4,363.2 304.1,364.1 368.6,364.9" fill="none" stroke="#000" stroke-width="1.1"/>
<path d="M242.2,481.0 241.8,428.0 240.4,387.8 239.5,381.0 237.1,375.9 234.2,374.1 229.5,372.4 222.4,371.6 126.5,371.2" fill="none" stroke="#000" stroke-width="1.1"/>
<path d="M368.6,371.2 286.2,371.6 279.4,372.4 277.0,373.5 275.1,375.0 274.1,376.7 273.4,379.3 272.4,387.0 271.5,425.4 271.2,481.0" fill="none" stroke="#000" stroke-width="1.1"/>
<path d="M126.5,362.2 188.2,361.8 207.8,361.1 221.8,359.8 224.6,359.5 225.2,357.9 226.5,356.7 231.2,353.8 234.0,351.5 234.9,351.4 238.7,348.8 239.6,348.6 244.3,343.2 244.4,340.8 245.3,340.0 245.3,336.5 246.2,335.7 246.3,334.0 246.5,259.6" fill="none" stroke="#000" stroke-width="1.1"/>
<path d="M269.9,259.6 270.1,338.2 271.6,350.2 272.8,353.6 274.4,356.2 276.7,357.9 280.2,358.8 299.4,361.0 331.2,361.9 368.6,362.2" fill="none" stroke="#000" stroke-width="1.1"/>
<path d="M229.8,481.0 229.4,427.1 227.7,388.7 226.6,381.8 225.5,379.3 223.5,376.7 220.9,375.3 216.9,374.1 204.9,372.4 172.3,371.7 126.5,371.6" fill="none" stroke="#000" stroke-width="1.1"/>
<path d="M368.6,371.7 304.1,372.5 296.6,373.3 289.1,374.8 285.9,375.9 283.8,377.6 282.1,380.1 281.1,382.7 280.2,389.5 278.9,424.6 278.5,481.0" fill="none" stroke="#000" stroke-width="1.1"/>
<path d="M126.5,359.5 177.0,359.4 209.7,358.3 215.0,357.9 221.8,356.4 224.7,355.3 228.4,352.8 230.4,350.2 231.6,347.6 232.8,342.5 233.5,336.5 233.8,259.6" fill="none" stroke="#000" stroke-width="1.1"/>
<path d="M277.9,259.6 278.2,336.5 279.6,347.6 280.5,350.2 282.2,352.8 284.5,354.8 287.2,356.2 292.9,357.7 297.6,358.2 328.4,359.2 368.6,359.5" fill="none" stroke="#000" stroke-width="1.1"/>
<path d="M218.5,481.0 218.2,440.8 217.4,416.0 215.0,387.8 214.3,384.4 212.4,381.0 209.5,378.4 206.0,376.7 195.7,375.2 169.5,373.9 126.5,373.6" fill="none" stroke="#000" stroke-width="1.1"/>
<path d="M368.6,373.7 337.8,374.2 308.3,375.9 301.3,377.6 298.4,379.3 295.8,381.8 294.4,384.4 293.5,388.7 290.9,417.7 290.1,441.7 289.8,481.0" fill="none" stroke="#000" stroke-width="1.1"/>
<path d="M126.5,357.8 173.2,357.6 195.7,356.3 203.4,355.3 208.8,354.1 212.5,352.6 215.9,350.2 217.9,347.6 219.6,343.4 220.7,339.1 221.3,333.1 221.5,259.6" fill="none" stroke="#000" stroke-width="1.1"/>
<path d="M288.4,259.6 288.6,332.3 289.7,341.7 290.9,345.9 292.7,349.4 295.5,351.9 298.9,353.6 303.2,354.8 309.7,355.8 334.9,357.3 368.6,357.8" fill="none" stroke="#000" stroke-width="1.1"/>
<path d="M205.5,481.0 204.9,442.5 203.3,420.3 199.8,402.4 195.8,389.5 194.1,386.1 191.1,383.5 187.3,381.8 179.8,379.6 173.2,378.3 156.4,377.0 126.5,376.6" fill="none" stroke="#000" stroke-width="1.1"/>
<path d="M368.6,377.1 346.2,378.2 333.1,380.1 326.2,381.8 321.5,383.5 318.8,385.3 316.7,387.8 310.6,404.1 308.3,413.5 306.9,421.3 305.1,442.5 304.4,481.0" fill="none" stroke="#000" stroke-width="1.1"/>
<path d="M126.5,354.5 163.0,354.3 178.8,353.4 187.4,351.9 193.9,350.2 199.4,347.7 202.4,345.1 206.1,339.1 207.5,330.6 207.7,259.6" fill="none" stroke="#000" stroke-width="1.1"/>
<path d="M301.4,259.6 301.6,329.7 302.6,337.4 305.0,342.3 307.8,345.5 310.9,347.6 314.9,349.4 321.8,351.1 340.6,353.6 368.6,354.4" fill="none" stroke="#000" stroke-width="1.1"/>
<path d="M181.4,481.0 180.5,449.4 179.3,434.0 176.1,417.7 174.2,412.2 171.4,406.4 167.6,401.0 163.9,397.1 157.3,392.2 152.7,389.6 147.1,387.9 141.6,387.0 126.5,386.0" fill="none" stroke="#000" stroke-width="1.1"/>
<path d="M368.6,393.2 358.3,397.5 350.8,402.7 345.1,409.2 340.5,417.7 337.3,428.9 335.4,440.8 334.4,454.5 333.6,481.0" fill="none" stroke="#000" stroke-width="1.1"/>
<path d="M126.5,348.7 155.5,348.5 169.5,347.5 175.1,346.2 178.0,345.1 181.7,342.5 184.8,339.1 186.8,334.0 187.5,328.0 187.7,259.6" fill="none" stroke="#000" stroke-width="1.1"/>
<path d="M326.1,259.6 326.2,324.6 326.7,331.4 328.4,336.5 330.1,339.1 333.2,341.7 337.8,344.2 341.5,345.5 352.7,347.5 368.6,348.5" fill="none" stroke="#000" stroke-width="1.1"/>
</g>
<line x1="153.4" y1="481.0" x2="153.4" y2="478.8" stroke="#111" stroke-width="0.9"/>
<line x1="153.4" y1="259.6" x2="153.4" y2="261.8" stroke="#111" stroke-width="0.9"/>
<line x1="126.5" y1="456.4" x2="128.7" y2="456.4" stroke="#111" stroke-width="0.9"/>
<line x1="368.6" y1="456.4" x2="366.40000000000003" y2="456.4" stroke="#111" stroke-width="0.9"/>
<line x1="180.3" y1="481.0" x2="180.3" y2="478.8" stroke="#111" stroke-width="0.9"/>
<line x1="180.3" y1="259.6" x2="180.3" y2="261.8" stroke="#111" stroke-width="0.9"/>
<line x1="126.5" y1="431.8" x2="128.7" y2="431.8" stroke="#111" stroke-width="0.9"/>
<line x1="368.6" y1="431.8" x2="366.40000000000003" y2="431.8" stroke="#111" stroke-width="0.9"/>
<line x1="207.2" y1="481.0" x2="207.2" y2="478.8" stroke="#111" stroke-width="0.9"/>
<line x1="207.2" y1="259.6" x2="207.2" y2="261.8" stroke="#111" stroke-width="0.9"/>
<line x1="126.5" y1="407.2" x2="128.7" y2="407.2" stroke="#111" stroke-width="0.9"/>
<line x1="368.6" y1="407.2" x2="366.40000000000003" y2="407.2" stroke="#111" stroke-width="0.9"/>
<line x1="234.1" y1="481.0" x2="234.1" y2="478.8" stroke="#111" stroke-width="0.9"/>
<line x1="234.1" y1="259.6" x2="234.1" y2="261.8" stroke="#111" stroke-width="0.9"/>
<line x1="126.5" y1="382.6" x2="128.7" y2="382.6" stroke="#111" stroke-width="0.9"/>
<line x1="368.6" y1="382.6" x2="366.40000000000003" y2="382.6" stroke="#111" stroke-width="0.9"/>
<line x1="261" y1="481.0" x2="261" y2="478.8" stroke="#111" stroke-width="0.9"/>
<line x1="261" y1="259.6" x2="261" y2="261.8" stroke="#111" stroke-width="0.9"/>
<line x1="126.5" y1="358" x2="128.7" y2="358" stroke="#111" stroke-width="0.9"/>
<line x1="368.6" y1="358" x2="366.40000000000003" y2="358" stroke="#111" stroke-width="0.9"/>
<line x1="287.9" y1="481.0" x2="287.9" y2="478.8" stroke="#111" stroke-width="0.9"/>
<line x1="287.9" y1="259.6" x2="287.9" y2="261.8" stroke="#111" stroke-width="0.9"/>
<line x1="126.5" y1="333.4" x2="128.7" y2="333.4" stroke="#111" stroke-width="0.9"/>
<line x1="368.6" y1="333.4" x2="366.40000000000003" y2="333.4" stroke="#111" stroke-width="0.9"/>
<line x1="314.8" y1="481.0" x2="314.8" y2="478.8" stroke="#111" stroke-width="0.9"/>
<line x1="314.8" y1="259.6" x2="314.8" y2="261.8" stroke="#111" stroke-width="0.9"/>
<line x1="126.5" y1="308.8" x2="128.7" y2="308.8" stroke="#111" stroke-width="0.9"/>
<line x1="368.6" y1="308.8" x2="366.40000000000003" y2="308.8" stroke="#111" stroke-width="0.9"/>
<line x1="341.7" y1="481.0" x2="341.7" y2="478.8" stroke="#111" stroke-width="0.9"/>
<line x1="341.7" y1="259.6" x2="341.7" y2="261.8" stroke="#111" stroke-width="0.9"/>
<line x1="126.5" y1="284.2" x2="128.7" y2="284.2" stroke="#111" stroke-width="0.9"/>
<line x1="368.6" y1="284.2" x2="366.40000000000003" y2="284.2" stroke="#111" stroke-width="0.9"/>
<rect x="126.5" y="259.6" width="242.10000000000002" height="221.39999999999998" fill="none" stroke="#111" stroke-width="1.1"/>
<text x="126.5" y="494.2" font-size="8.6" text-anchor="middle" font-weight="normal" fill="#333" font-family='"Liberation Sans", sans-serif' >1.4</text>
<text x="122.5" y="484" font-size="8.6" text-anchor="end" font-weight="normal" fill="#333" font-family='"Liberation Sans", sans-serif' >1.4</text>
<text x="153.4" y="494.2" font-size="8.6" text-anchor="middle" font-weight="normal" fill="#333" font-family='"Liberation Sans", sans-serif' >1.5</text>
<text x="122.5" y="459.4" font-size="8.6" text-anchor="end" font-weight="normal" fill="#333" font-family='"Liberation Sans", sans-serif' >1.5</text>
<text x="180.3" y="494.2" font-size="8.6" text-anchor="middle" font-weight="normal" fill="#333" font-family='"Liberation Sans", sans-serif' >1.6</text>
<text x="122.5" y="434.8" font-size="8.6" text-anchor="end" font-weight="normal" fill="#333" font-family='"Liberation Sans", sans-serif' >1.6</text>
<text x="207.2" y="494.2" font-size="8.6" text-anchor="middle" font-weight="normal" fill="#333" font-family='"Liberation Sans", sans-serif' >1.7</text>
<text x="122.5" y="410.2" font-size="8.6" text-anchor="end" font-weight="normal" fill="#333" font-family='"Liberation Sans", sans-serif' >1.7</text>
<text x="234.1" y="494.2" font-size="8.6" text-anchor="middle" font-weight="normal" fill="#333" font-family='"Liberation Sans", sans-serif' >1.8</text>
<text x="122.5" y="385.6" font-size="8.6" text-anchor="end" font-weight="normal" fill="#333" font-family='"Liberation Sans", sans-serif' >1.8</text>
<text x="261" y="494.2" font-size="8.6" text-anchor="middle" font-weight="normal" fill="#333" font-family='"Liberation Sans", sans-serif' >1.9</text>
<text x="122.5" y="361" font-size="8.6" text-anchor="end" font-weight="normal" fill="#333" font-family='"Liberation Sans", sans-serif' >1.9</text>
<text x="287.9" y="494.2" font-size="8.6" text-anchor="middle" font-weight="normal" fill="#333" font-family='"Liberation Sans", sans-serif' >2</text>
<text x="122.5" y="336.4" font-size="8.6" text-anchor="end" font-weight="normal" fill="#333" font-family='"Liberation Sans", sans-serif' >2</text>
<text x="314.8" y="494.2" font-size="8.6" text-anchor="middle" font-weight="normal" fill="#333" font-family='"Liberation Sans", sans-serif' >2.1</text>
<text x="122.5" y="311.8" font-size="8.6" text-anchor="end" font-weight="normal" fill="#333" font-family='"Liberation Sans", sans-serif' >2.1</text>
<text x="341.7" y="494.2" font-size="8.6" text-anchor="middle" font-weight="normal" fill="#333" font-family='"Liberation Sans", sans-serif' >2.2</text>
<text x="122.5" y="287.2" font-size="8.6" text-anchor="end" font-weight="normal" fill="#333" font-family='"Liberation Sans", sans-serif' >2.2</text>
<text x="368.6" y="494.2" font-size="8.6" text-anchor="middle" font-weight="normal" fill="#333" font-family='"Liberation Sans", sans-serif' >2.3</text>
<text x="122.5" y="262.6" font-size="8.6" text-anchor="end" font-weight="normal" fill="#333" font-family='"Liberation Sans", sans-serif' >2.3</text>
<text x="247.05" y="505.7" font-size="9.6" text-anchor="middle" font-weight="normal" fill="#333" font-family='"Liberation Sans", sans-serif' >Frequency f<tspan font-size="6.2" dy="3.6">TMD2</tspan><tspan dy="-3.6"> (Hz)</tspan></text>
<text x="0" y="0" font-size="9.2" text-anchor="middle" font-weight="normal" fill="#333" font-family='"Liberation Sans", sans-serif' transform="translate(99,369.3) rotate(-90) scale(1.04,1)">Frequency f<tspan font-size="6" dy="3.2">TMD1</tspan><tspan dy="-3.2"> (Hz)</tspan></text>
<text x="247.55" y="255.3" font-size="9.1" text-anchor="middle" font-weight="bold" fill="#222" font-family='"Liberation Sans", sans-serif' >fTMD1vsfTMD2</text>
<defs><linearGradient id="parula" x1="0" y1="1" x2="0" y2="0">
<stop offset="0.0" stop-color="#3c2a86"/>
<stop offset="0.1" stop-color="#3a4fd8"/>
<stop offset="0.2" stop-color="#2b6fe6"/>
<stop offset="0.32" stop-color="#1f8ee0"/>
<stop offset="0.45" stop-color="#16aacd"/>
<stop offset="0.56" stop-color="#3bbda6"/>
<stop offset="0.66" stop-color="#8fc274"/>
<stop offset="0.74" stop-color="#c2b95e"/>
<stop offset="0.83" stop-color="#f2b444"/>
<stop offset="0.9" stop-color="#fbc633"/>
<stop offset="1.0" stop-color="#f7ed18"/>
</linearGradient></defs>
<rect x="382.8" y="259.6" width="18.0" height="221.7" fill="url(#parula)" stroke="#111" stroke-width="1.1"/>
<line x1="400.8" y1="461.15" x2="398.8" y2="461.15" stroke="#111" stroke-width="0.9"/>
<text x="403.8" y="464.15" font-size="7.9" text-anchor="start" font-weight="normal" fill="#333" font-family='"Liberation Sans", sans-serif' >0.25</text>
<line x1="400.8" y1="427.55" x2="398.8" y2="427.55" stroke="#111" stroke-width="0.9"/>
<text x="403.8" y="430.55" font-size="7.9" text-anchor="start" font-weight="normal" fill="#333" font-family='"Liberation Sans", sans-serif' >0.3</text>
<line x1="400.8" y1="393.96" x2="398.8" y2="393.96" stroke="#111" stroke-width="0.9"/>
<text x="403.8" y="396.96" font-size="7.9" text-anchor="start" font-weight="normal" fill="#333" font-family='"Liberation Sans", sans-serif' >0.35</text>
<line x1="400.8" y1="360.37" x2="398.8" y2="360.37" stroke="#111" stroke-width="0.9"/>
<text x="403.8" y="363.37" font-size="7.9" text-anchor="start" font-weight="normal" fill="#333" font-family='"Liberation Sans", sans-serif' >0.4</text>
<line x1="400.8" y1="326.78" x2="398.8" y2="326.78" stroke="#111" stroke-width="0.9"/>
<text x="403.8" y="329.78" font-size="7.9" text-anchor="start" font-weight="normal" fill="#333" font-family='"Liberation Sans", sans-serif' >0.45</text>
<line x1="400.8" y1="293.19" x2="398.8" y2="293.19" stroke="#111" stroke-width="0.9"/>
<text x="403.8" y="296.19" font-size="7.9" text-anchor="start" font-weight="normal" fill="#333" font-family='"Liberation Sans", sans-serif' >0.5</text>
<line x1="400.8" y1="259.6" x2="398.8" y2="259.6" stroke="#111" stroke-width="0.9"/>
<text x="403.8" y="262.6" font-size="7.9" text-anchor="start" font-weight="normal" fill="#333" font-family='"Liberation Sans", sans-serif' >0.55</text>
<text x="0" y="0" font-size="7.5" text-anchor="middle" font-weight="normal" fill="#333" font-family='"Liberation Sans", sans-serif' transform="translate(432.2,368) rotate(-90)">Peak Acceleration (m/s<tspan font-size="5.2" dy="-3">2</tspan><tspan dy="3">)</tspan></text>
<rect x="85" y="524.6" width="52.3" height="28.2" fill="#d9d9d9"/>
<rect x="140.3" y="524.6" width="55.9" height="28.2" fill="#d9d9d9"/>
<rect x="199.2" y="524.6" width="64.4" height="28.2" fill="#d9d9d9"/>
<rect x="266.6" y="524.6" width="54.8" height="28.2" fill="#d9d9d9"/>
<rect x="324.4" y="524.6" width="69.7" height="28.2" fill="#d9d9d9"/>
<rect x="397.1" y="524.6" width="72.1" height="28.2" fill="#d9d9d9"/>
<line x1="83.4" y1="522.1999999999999" x2="83.4" y2="606.0" stroke="#111" stroke-width="1.3"/>
<line x1="138.7" y1="522.1999999999999" x2="138.7" y2="606.0" stroke="#111" stroke-width="1.3"/>
<line x1="197.6" y1="522.1999999999999" x2="197.6" y2="606.0" stroke="#111" stroke-width="1.3"/>
<line x1="265.0" y1="522.1999999999999" x2="265.0" y2="606.0" stroke="#111" stroke-width="1.3"/>
<line x1="322.8" y1="522.1999999999999" x2="322.8" y2="606.0" stroke="#111" stroke-width="1.3"/>
<line x1="395.5" y1="522.1999999999999" x2="395.5" y2="606.0" stroke="#111" stroke-width="1.3"/>
<line x1="470.6" y1="522.1999999999999" x2="470.6" y2="606.0" stroke="#111" stroke-width="1.3"/>
<line x1="82.80000000000001" y1="522.8" x2="471.20000000000005" y2="522.8" stroke="#111" stroke-width="1.3"/>
<line x1="82.80000000000001" y1="553.8" x2="471.20000000000005" y2="553.8" stroke="#111" stroke-width="1.3"/>
<line x1="82.80000000000001" y1="571.0" x2="471.20000000000005" y2="571.0" stroke="#111" stroke-width="1.3"/>
<line x1="82.80000000000001" y1="588.2" x2="471.20000000000005" y2="588.2" stroke="#111" stroke-width="1.3"/>
<line x1="82.80000000000001" y1="605.4" x2="471.20000000000005" y2="605.4" stroke="#111" stroke-width="1.3"/>
<text x="111.05" y="543.5" font-size="12.4" text-anchor="middle" font-weight="bold" fill="#111" font-family='"Liberation Serif", serif' >TMD</text>
<text x="168.15" y="536.2" font-size="12.4" text-anchor="middle" font-weight="bold" fill="#111" font-family='"Liberation Serif", serif' >Position</text>
<text x="168.15" y="549.6" font-size="12.4" text-anchor="middle" font-weight="bold" fill="#111" font-family='"Liberation Serif", serif' >(m)</text>
<text x="231.3" y="543.5" font-size="12.4" text-anchor="middle" font-weight="bold" fill="#111" font-family='"Liberation Serif", serif' >mTMD (kg)</text>
<text x="293.9" y="536.2" font-size="12.4" text-anchor="middle" font-weight="bold" fill="#111" font-family='"Liberation Serif", serif' >fTMD</text>
<text x="293.9" y="549.6" font-size="12.4" text-anchor="middle" font-weight="bold" fill="#111" font-family='"Liberation Serif", serif' >(Hz)</text>
<text x="359.15" y="536.2" font-size="12.4" text-anchor="middle" font-weight="bold" fill="#111" font-family='"Liberation Serif", serif' >kTMD</text>
<text x="359.15" y="549.6" font-size="12.4" text-anchor="middle" font-weight="bold" fill="#111" font-family='"Liberation Serif", serif' >(kN/m)</text>
<text x="433.05" y="543.5" font-size="12.4" text-anchor="middle" font-weight="bold" fill="#111" font-family='"Liberation Serif", serif' >&#958;TMD (-)</text>
<text x="111.05" y="567" font-size="13.8" text-anchor="middle" font-weight="normal" fill="#111" font-family='"Liberation Serif", serif' >1</text>
<text x="168.15" y="567" font-size="13.8" text-anchor="middle" font-weight="normal" fill="#111" font-family='"Liberation Serif", serif' >24</text>
<text x="231.3" y="567" font-size="13.8" text-anchor="middle" font-weight="normal" fill="#111" font-family='"Liberation Serif", serif' >3430</text>
<text x="293.9" y="567" font-size="13.8" text-anchor="middle" font-weight="normal" fill="#111" font-family='"Liberation Serif", serif' >1.88</text>
<text x="359.15" y="567" font-size="13.8" text-anchor="middle" font-weight="normal" fill="#111" font-family='"Liberation Serif", serif' >481</text>
<text x="433.05" y="567" font-size="13.8" text-anchor="middle" font-weight="normal" fill="#111" font-family='"Liberation Serif", serif' >0.084</text>
<text x="111.05" y="584.2" font-size="13.8" text-anchor="middle" font-weight="normal" fill="#111" font-family='"Liberation Serif", serif' >2</text>
<text x="168.15" y="584.2" font-size="13.8" text-anchor="middle" font-weight="normal" fill="#111" font-family='"Liberation Serif", serif' >72</text>
<text x="231.3" y="584.2" font-size="13.8" text-anchor="middle" font-weight="normal" fill="#111" font-family='"Liberation Serif", serif' >3430</text>
<text x="293.9" y="584.2" font-size="13.8" text-anchor="middle" font-weight="normal" fill="#111" font-family='"Liberation Serif", serif' >2.03</text>
<text x="359.15" y="584.2" font-size="13.8" text-anchor="middle" font-weight="normal" fill="#111" font-family='"Liberation Serif", serif' >560</text>
<text x="433.05" y="584.2" font-size="13.8" text-anchor="middle" font-weight="normal" fill="#111" font-family='"Liberation Serif", serif' >0.084</text>
<text x="111.05" y="601.4" font-size="13.8" text-anchor="middle" font-weight="normal" fill="#111" font-family='"Liberation Serif", serif' >3</text>
<text x="168.15" y="601.4" font-size="13.8" text-anchor="middle" font-weight="normal" fill="#111" font-family='"Liberation Serif", serif' >120</text>
<text x="231.3" y="601.4" font-size="13.8" text-anchor="middle" font-weight="normal" fill="#111" font-family='"Liberation Serif", serif' >3430</text>
<text x="293.9" y="601.4" font-size="13.8" text-anchor="middle" font-weight="normal" fill="#111" font-family='"Liberation Serif", serif' >1.76</text>
<text x="359.15" y="601.4" font-size="13.8" text-anchor="middle" font-weight="normal" fill="#111" font-family='"Liberation Serif", serif' >421</text>
<text x="433.05" y="601.4" font-size="13.8" text-anchor="middle" font-weight="normal" fill="#111" font-family='"Liberation Serif", serif' >0.084</text>
<rect x="524.2" y="82.8" width="273.0999999999999" height="219.5" fill="#fff"/>
<line x1="589.22" y1="82.8" x2="589.22" y2="302.3" stroke="#d6d6d6" stroke-width="0.8"/>
<line x1="654.25" y1="82.8" x2="654.25" y2="302.3" stroke="#d6d6d6" stroke-width="0.8"/>
<line x1="719.27" y1="82.8" x2="719.27" y2="302.3" stroke="#d6d6d6" stroke-width="0.8"/>
<line x1="524.2" y1="270.94" x2="797.3" y2="270.94" stroke="#d6d6d6" stroke-width="0.8"/>
<line x1="524.2" y1="239.59" x2="797.3" y2="239.59" stroke="#d6d6d6" stroke-width="0.8"/>
<line x1="524.2" y1="208.23" x2="797.3" y2="208.23" stroke="#d6d6d6" stroke-width="0.8"/>
<line x1="524.2" y1="176.87" x2="797.3" y2="176.87" stroke="#d6d6d6" stroke-width="0.8"/>
<line x1="524.2" y1="145.51" x2="797.3" y2="145.51" stroke="#d6d6d6" stroke-width="0.8"/>
<line x1="524.2" y1="114.16" x2="797.3" y2="114.16" stroke="#d6d6d6" stroke-width="0.8"/>
<path d="M524.2,302.3 L524.59,302.3 L524.98,302.3 L525.37,302.3 L525.76,302.3 L526.15,302.3 L526.54,302.29 L526.93,302.29 L527.33,302.29 L527.72,302.29 L528.11,302.29 L528.5,302.29 L528.89,302.28 L529.28,302.28 L529.67,302.28 L530.06,302.28 L530.45,302.28 L530.84,302.27 L531.23,302.27 L531.62,302.27 L532.01,302.26 L532.4,302.26 L532.8,302.26 L533.19,302.25 L533.58,302.25 L533.97,302.25 L534.36,302.24 L534.75,302.24 L535.14,302.24 L535.53,302.23 L535.92,302.23 L536.31,302.23 L536.7,302.22 L537.09,302.22 L537.48,302.21 L537.87,302.21 L538.27,302.21 L538.66,302.2 L539.05,302.2 L539.44,302.19 L539.83,302.19 L540.22,302.18 L540.61,302.18 L541,302.17 L541.39,302.17 L541.78,302.16 L542.17,302.16 L542.56,302.15 L542.95,302.15 L543.34,302.14 L543.74,302.14 L544.13,302.13 L544.52,302.13 L544.91,302.12 L545.3,302.12 L545.69,302.11 L546.08,302.11 L546.47,302.1 L546.86,302.1 L547.25,302.09 L547.64,302.09 L548.03,302.08 L548.42,302.07 L548.81,302.07 L549.2,302.06 L549.6,302.06 L549.99,302.05 L550.38,302.05 L550.77,302.04 L551.16,302.04 L551.55,302.03 L551.94,302.02 L552.33,302.02 L552.72,302.01 L553.11,302 L553.5,302 L553.89,301.99 L554.28,301.98 L554.67,301.97 L555.07,301.97 L555.46,301.96 L555.85,301.95 L556.24,301.94 L556.63,301.93 L557.02,301.92 L557.41,301.92 L557.8,301.91 L558.19,301.9 L558.58,301.89 L558.97,301.88 L559.36,301.87 L559.75,301.86 L560.14,301.85 L560.54,301.84 L560.93,301.83 L561.32,301.82 L561.71,301.81 L562.1,301.8 L562.49,301.79 L562.88,301.78 L563.27,301.77 L563.66,301.76 L564.05,301.74 L564.44,301.73 L564.83,301.72 L565.22,301.71 L565.61,301.7 L566.01,301.69 L566.4,301.68 L566.79,301.66 L567.18,301.65 L567.57,301.64 L567.96,301.63 L568.35,301.62 L568.74,301.6 L569.13,301.59 L569.52,301.58 L569.91,301.57 L570.3,301.55 L570.69,301.54 L571.08,301.53 L571.47,301.52 L571.87,301.5 L572.26,301.49 L572.65,301.48 L573.04,301.47 L573.43,301.45 L573.82,301.44 L574.21,301.43 L574.6,301.41 L574.99,301.4 L575.38,301.39 L575.77,301.37 L576.16,301.36 L576.55,301.35 L576.94,301.33 L577.34,301.32 L577.73,301.31 L578.12,301.29 L578.51,301.28 L578.9,301.26 L579.29,301.25 L579.68,301.23 L580.07,301.22 L580.46,301.2 L580.85,301.19 L581.24,301.17 L581.63,301.16 L582.02,301.14 L582.41,301.12 L582.81,301.11 L583.2,301.09 L583.59,301.07 L583.98,301.05 L584.37,301.04 L584.76,301.02 L585.15,301 L585.54,300.98 L585.93,300.96 L586.32,300.94 L586.71,300.92 L587.1,300.9 L587.49,300.88 L587.88,300.86 L588.27,300.84 L588.67,300.82 L589.06,300.8 L589.45,300.78 L589.84,300.76 L590.23,300.74 L590.62,300.72 L591.01,300.7 L591.4,300.67 L591.79,300.65 L592.18,300.63 L592.57,300.6 L592.96,300.58 L593.35,300.56 L593.74,300.53 L594.14,300.51 L594.53,300.48 L594.92,300.46 L595.31,300.43 L595.7,300.41 L596.09,300.38 L596.48,300.35 L596.87,300.33 L597.26,300.3 L597.65,300.27 L598.04,300.25 L598.43,300.22 L598.82,300.19 L599.21,300.16 L599.61,300.13 L600,300.1 L600.39,300.08 L600.78,300.05 L601.17,300.02 L601.56,299.99 L601.95,299.96 L602.34,299.93 L602.73,299.9 L603.12,299.87 L603.51,299.84 L603.9,299.81 L604.29,299.78 L604.68,299.74 L605.08,299.71 L605.47,299.68 L605.86,299.65 L606.25,299.62 L606.64,299.59 L607.03,299.55 L607.42,299.52 L607.81,299.49 L608.2,299.46 L608.59,299.42 L608.98,299.39 L609.37,299.36 L609.76,299.33 L610.15,299.29 L610.54,299.26 L610.94,299.23 L611.33,299.19 L611.72,299.16 L612.11,299.12 L612.5,299.09 L612.89,299.06 L613.28,299.02 L613.67,298.99 L614.06,298.95 L614.45,298.92 L614.84,298.89 L615.23,298.85 L615.62,298.82 L616.01,298.78 L616.41,298.75 L616.8,298.71 L617.19,298.68 L617.58,298.64 L617.97,298.6 L618.36,298.57 L618.75,298.53 L619.14,298.5 L619.53,298.46 L619.92,298.42 L620.31,298.39 L620.7,298.35 L621.09,298.31 L621.48,298.28 L621.88,298.24 L622.27,298.2 L622.66,298.16 L623.05,298.12 L623.44,298.08 L623.83,298.05 L624.22,298.01 L624.61,297.97 L625,297.93 L625.39,297.89 L625.78,297.85 L626.17,297.81 L626.56,297.77 L626.95,297.73 L627.35,297.69 L627.74,297.65 L628.13,297.6 L628.52,297.56 L628.91,297.52 L629.3,297.48 L629.69,297.44 L630.08,297.39 L630.47,297.35 L630.86,297.31 L631.25,297.26 L631.64,297.22 L632.03,297.17 L632.42,297.13 L632.81,297.08 L633.21,297.04 L633.6,296.99 L633.99,296.95 L634.38,296.9 L634.77,296.85 L635.16,296.81 L635.55,296.76 L635.94,296.71 L636.33,296.66 L636.72,296.61 L637.11,296.57 L637.5,296.52 L637.89,296.47 L638.28,296.42 L638.68,296.37 L639.07,296.32 L639.46,296.27 L639.85,296.21 L640.24,296.16 L640.63,296.11 L641.02,296.06 L641.41,296.01 L641.8,295.95 L642.19,295.9 L642.58,295.84 L642.97,295.79 L643.36,295.73 L643.75,295.68 L644.15,295.62 L644.54,295.56 L644.93,295.5 L645.32,295.44 L645.71,295.38 L646.1,295.32 L646.49,295.26 L646.88,295.19 L647.27,295.13 L647.66,295.07 L648.05,295 L648.44,294.93 L648.83,294.87 L649.22,294.8 L649.62,294.73 L650.01,294.66 L650.4,294.59 L650.79,294.52 L651.18,294.44 L651.57,294.37 L651.96,294.29 L652.35,294.22 L652.74,294.14 L653.13,294.06 L653.52,293.98 L653.91,293.9 L654.3,293.82 L654.69,293.74 L655.08,293.66 L655.48,293.57 L655.87,293.49 L656.26,293.4 L656.65,293.32 L657.04,293.23 L657.43,293.14 L657.82,293.05 L658.21,292.95 L658.6,292.86 L658.99,292.76 L659.38,292.66 L659.77,292.56 L660.16,292.45 L660.55,292.35 L660.95,292.24 L661.34,292.12 L661.73,292.01 L662.12,291.89 L662.51,291.76 L662.9,291.63 L663.29,291.5 L663.68,291.37 L664.07,291.23 L664.46,291.08 L664.85,290.93 L665.24,290.78 L665.63,290.62 L666.02,290.46 L666.42,290.29 L666.81,290.11 L667.2,289.92 L667.59,289.72 L667.98,289.51 L668.37,289.28 L668.76,289.05 L669.15,288.79 L669.54,288.53 L669.93,288.25 L670.32,287.95 L670.71,287.63 L671.1,287.29 L671.49,286.91 L671.88,286.44 L672.28,285.89 L672.67,285.28 L673.06,284.62 L673.45,283.92 L673.84,283.19 L674.23,282.37 L674.62,281.21 L675.01,279.97 L675.4,278.95 L675.79,278.47 L676.18,279.07 L676.57,280.73 L676.96,282.71 L677.35,284.49 L677.75,286.59 L678.14,288.76 L678.53,290.56 L678.92,291.59 L679.31,291.96 L679.7,292.23 L680.09,292.38 L680.48,292.36 L680.87,292.18 L681.26,291.86 L681.65,291.43 L682.04,290.93 L682.43,290.38 L682.82,289.81 L683.22,289.18 L683.61,288.43 L684,287.56 L684.39,286.57 L684.78,285.47 L685.17,284.27 L685.56,282.97 L685.95,281.59 L686.34,280.12 L686.73,278.58 L687.12,276.88 L687.51,274.91 L687.9,272.69 L688.29,270.26 L688.69,267.62 L689.08,264.82 L689.47,261.86 L689.86,258.77 L690.25,255.59 L690.64,252.32 L691.03,248.87 L691.42,245.12 L691.81,241.1 L692.2,236.83 L692.59,232.35 L692.98,227.67 L693.37,222.84 L693.76,217.87 L694.15,212.43 L694.55,206.37 L694.94,200.05 L695.33,193.86 L695.72,188.18 L696.11,182.89 L696.5,177.2 L696.89,172.93 L697.28,172.05 L697.67,175.06 L698.06,180.34 L698.45,186.12 L698.84,192.6 L699.23,200.7 L699.62,209.45 L700.02,217.87 L700.41,225.01 L700.8,230.39 L701.19,235.29 L701.58,239.85 L701.97,244.05 L702.36,247.92 L702.75,251.45 L703.14,254.64 L703.53,257.5 L703.92,260.07 L704.31,262.49 L704.7,264.79 L705.09,266.94 L705.49,268.96 L705.88,270.83 L706.27,272.56 L706.66,274.14 L707.05,275.56 L707.44,276.83 L707.83,277.96 L708.22,279.01 L708.61,279.99 L709,280.89 L709.39,281.74 L709.78,282.53 L710.17,283.26 L710.56,283.95 L710.96,284.59 L711.35,285.19 L711.74,285.76 L712.13,286.31 L712.52,286.84 L712.91,287.34 L713.3,287.82 L713.69,288.27 L714.08,288.68 L714.47,289.05 L714.86,289.39 L715.25,289.68 L715.64,289.94 L716.03,290.2 L716.42,290.44 L716.82,290.62 L717.21,290.74 L717.6,290.76 L717.99,290.71 L718.38,290.63 L718.77,290.5 L719.16,290.34 L719.55,290.14 L719.94,289.92 L720.33,289.67 L720.72,289.4 L721.11,289.12 L721.5,288.82 L721.89,288.52 L722.29,288.21 L722.68,287.91 L723.07,287.61 L723.46,287.31 L723.85,287.03 L724.24,286.77 L724.63,286.53 L725.02,286.29 L725.41,286.05 L725.8,285.81 L726.19,285.57 L726.58,285.33 L726.97,285.09 L727.36,284.84 L727.76,284.6 L728.15,284.35 L728.54,284.11 L728.93,283.86 L729.32,283.61 L729.71,283.35 L730.1,283.1 L730.49,282.84 L730.88,282.57 L731.27,282.31 L731.66,282.04 L732.05,281.76 L732.44,281.48 L732.83,281.21 L733.23,280.93 L733.62,280.66 L734.01,280.38 L734.4,280.1 L734.79,279.83 L735.18,279.54 L735.57,279.26 L735.96,278.96 L736.35,278.67 L736.74,278.36 L737.13,278.05 L737.52,277.73 L737.91,277.39 L738.3,277.05 L738.69,276.7 L739.09,276.33 L739.48,275.95 L739.87,275.55 L740.26,275.14 L740.65,274.72 L741.04,274.28 L741.43,273.83 L741.82,273.36 L742.21,272.88 L742.6,272.38 L742.99,271.86 L743.38,271.32 L743.77,270.76 L744.16,270.18 L744.56,269.57 L744.95,268.95 L745.34,268.3 L745.73,267.62 L746.12,266.92 L746.51,266.2 L746.9,265.44 L747.29,264.66 L747.68,263.85 L748.07,263 L748.46,262.07 L748.85,261.05 L749.24,259.96 L749.63,258.79 L750.03,257.55 L750.42,256.24 L750.81,254.87 L751.2,253.44 L751.59,251.96 L751.98,250.43 L752.37,248.85 L752.76,247.23 L753.15,245.57 L753.54,243.91 L753.93,242.22 L754.32,240.48 L754.71,238.63 L755.1,236.64 L755.49,234.48 L755.89,232.1 L756.28,229.47 L756.67,226.54 L757.06,223.26 L757.45,219.01 L757.84,213.63 L758.23,207.31 L758.62,200.23 L759.01,192.59 L759.4,184.57 L759.79,176.35 L760.18,168.13 L760.57,159.77 L760.96,150.03 L761.36,139.56 L761.75,129.27 L762.14,120.07 L762.53,112.81 L762.92,105.98 L763.31,99.7 L763.7,95.32 L764.09,94.18 L764.48,96.77 L764.87,102.02 L765.26,108.71 L765.65,115.72 L766.04,124.9 L766.43,136.27 L766.83,148.4 L767.22,159.85 L767.61,169.68 L768,179.3 L768.39,188.76 L768.78,197.82 L769.17,206.24 L769.56,213.77 L769.95,220.2 L770.34,225.68 L770.73,230.74 L771.12,235.36 L771.51,239.57 L771.9,243.35 L772.3,246.72 L772.69,249.68 L773.08,252.4 L773.47,254.95 L773.86,257.34 L774.25,259.57 L774.64,261.65 L775.03,263.59 L775.42,265.39 L775.81,267.07 L776.2,268.61 L776.59,270.05 L776.98,271.4 L777.37,272.68 L777.76,273.91 L778.16,275.07 L778.55,276.18 L778.94,277.23 L779.33,278.24 L779.72,279.2 L780.11,280.12 L780.5,281 L780.89,281.84 L781.28,282.66 L781.67,283.44 L782.06,284.2 L782.45,284.93 L782.84,285.63 L783.23,286.3 L783.63,286.95 L784.02,287.58 L784.41,288.18 L784.8,288.77 L785.19,289.33 L785.58,289.88 L785.97,290.42 L786.36,290.94 L786.75,291.45 L787.14,291.95 L787.53,292.43 L787.92,292.89 L788.31,293.34 L788.7,293.78 L789.1,294.2 L789.49,294.62 L789.88,295.03 L790.27,295.43 L790.66,295.83 L791.05,296.22 L791.44,296.61 L791.83,297.01 L792.22,297.41 L792.61,297.8 L793,298.2 L793.39,298.59 L793.78,298.97 L794.17,299.36 L794.57,299.74 L794.96,300.11 L795.35,300.49 L795.74,300.86 L796.13,301.22 L796.52,301.59 L796.91,301.94 L797.3,302.3" fill="none" stroke="#111" stroke-width="1.25" stroke-linejoin="round" stroke-linecap="round" />
<path d="M524.2,302.3 L524.59,302.3 L524.98,302.3 L525.37,302.3 L525.76,302.3 L526.15,302.3 L526.54,302.29 L526.93,302.29 L527.33,302.29 L527.72,302.29 L528.11,302.29 L528.5,302.29 L528.89,302.28 L529.28,302.28 L529.67,302.28 L530.06,302.28 L530.45,302.28 L530.84,302.27 L531.23,302.27 L531.62,302.27 L532.01,302.26 L532.4,302.26 L532.8,302.26 L533.19,302.25 L533.58,302.25 L533.97,302.25 L534.36,302.24 L534.75,302.24 L535.14,302.24 L535.53,302.23 L535.92,302.23 L536.31,302.23 L536.7,302.22 L537.09,302.22 L537.48,302.21 L537.87,302.21 L538.27,302.21 L538.66,302.2 L539.05,302.2 L539.44,302.19 L539.83,302.19 L540.22,302.18 L540.61,302.18 L541,302.17 L541.39,302.17 L541.78,302.16 L542.17,302.16 L542.56,302.15 L542.95,302.15 L543.34,302.14 L543.74,302.14 L544.13,302.13 L544.52,302.13 L544.91,302.12 L545.3,302.12 L545.69,302.11 L546.08,302.11 L546.47,302.1 L546.86,302.1 L547.25,302.09 L547.64,302.09 L548.03,302.08 L548.42,302.07 L548.81,302.07 L549.2,302.06 L549.6,302.06 L549.99,302.05 L550.38,302.05 L550.77,302.04 L551.16,302.04 L551.55,302.03 L551.94,302.02 L552.33,302.02 L552.72,302.01 L553.11,302 L553.5,302 L553.89,301.99 L554.28,301.98 L554.67,301.97 L555.07,301.97 L555.46,301.96 L555.85,301.95 L556.24,301.94 L556.63,301.93 L557.02,301.93 L557.41,301.92 L557.8,301.91 L558.19,301.9 L558.58,301.89 L558.97,301.88 L559.36,301.87 L559.75,301.86 L560.14,301.85 L560.54,301.84 L560.93,301.83 L561.32,301.82 L561.71,301.81 L562.1,301.8 L562.49,301.79 L562.88,301.78 L563.27,301.77 L563.66,301.76 L564.05,301.75 L564.44,301.74 L564.83,301.73 L565.22,301.72 L565.61,301.71 L566.01,301.69 L566.4,301.68 L566.79,301.67 L567.18,301.66 L567.57,301.65 L567.96,301.63 L568.35,301.62 L568.74,301.61 L569.13,301.6 L569.52,301.59 L569.91,301.57 L570.3,301.56 L570.69,301.55 L571.08,301.53 L571.47,301.52 L571.87,301.51 L572.26,301.5 L572.65,301.48 L573.04,301.47 L573.43,301.46 L573.82,301.44 L574.21,301.43 L574.6,301.42 L574.99,301.4 L575.38,301.39 L575.77,301.38 L576.16,301.36 L576.55,301.35 L576.94,301.33 L577.34,301.32 L577.73,301.3 L578.12,301.29 L578.51,301.27 L578.9,301.26 L579.29,301.24 L579.68,301.22 L580.07,301.2 L580.46,301.19 L580.85,301.17 L581.24,301.15 L581.63,301.13 L582.02,301.11 L582.41,301.1 L582.81,301.08 L583.2,301.06 L583.59,301.04 L583.98,301.02 L584.37,301 L584.76,300.98 L585.15,300.96 L585.54,300.94 L585.93,300.91 L586.32,300.89 L586.71,300.87 L587.1,300.85 L587.49,300.83 L587.88,300.81 L588.27,300.79 L588.67,300.76 L589.06,300.74 L589.45,300.72 L589.84,300.7 L590.23,300.67 L590.62,300.65 L591.01,300.63 L591.4,300.61 L591.79,300.58 L592.18,300.56 L592.57,300.54 L592.96,300.51 L593.35,300.49 L593.74,300.46 L594.14,300.44 L594.53,300.41 L594.92,300.39 L595.31,300.36 L595.7,300.34 L596.09,300.31 L596.48,300.29 L596.87,300.26 L597.26,300.24 L597.65,300.21 L598.04,300.18 L598.43,300.16 L598.82,300.13 L599.21,300.1 L599.61,300.08 L600,300.05 L600.39,300.02 L600.78,299.99 L601.17,299.97 L601.56,299.94 L601.95,299.91 L602.34,299.88 L602.73,299.85 L603.12,299.82 L603.51,299.8 L603.9,299.77 L604.29,299.74 L604.68,299.71 L605.08,299.68 L605.47,299.65 L605.86,299.62 L606.25,299.59 L606.64,299.56 L607.03,299.53 L607.42,299.5 L607.81,299.47 L608.2,299.44 L608.59,299.4 L608.98,299.37 L609.37,299.34 L609.76,299.31 L610.15,299.28 L610.54,299.25 L610.94,299.21 L611.33,299.18 L611.72,299.15 L612.11,299.12 L612.5,299.08 L612.89,299.05 L613.28,299.02 L613.67,298.99 L614.06,298.95 L614.45,298.92 L614.84,298.88 L615.23,298.85 L615.62,298.82 L616.01,298.78 L616.41,298.75 L616.8,298.72 L617.19,298.68 L617.58,298.65 L617.97,298.61 L618.36,298.58 L618.75,298.55 L619.14,298.51 L619.53,298.48 L619.92,298.44 L620.31,298.41 L620.7,298.37 L621.09,298.34 L621.48,298.31 L621.88,298.27 L622.27,298.24 L622.66,298.2 L623.05,298.16 L623.44,298.13 L623.83,298.09 L624.22,298.06 L624.61,298.02 L625,297.98 L625.39,297.95 L625.78,297.91 L626.17,297.87 L626.56,297.83 L626.95,297.79 L627.35,297.76 L627.74,297.72 L628.13,297.68 L628.52,297.64 L628.91,297.6 L629.3,297.56 L629.69,297.51 L630.08,297.47 L630.47,297.43 L630.86,297.39 L631.25,297.34 L631.64,297.3 L632.03,297.26 L632.42,297.21 L632.81,297.17 L633.21,297.12 L633.6,297.07 L633.99,297.03 L634.38,296.98 L634.77,296.93 L635.16,296.88 L635.55,296.83 L635.94,296.78 L636.33,296.73 L636.72,296.68 L637.11,296.63 L637.5,296.58 L637.89,296.52 L638.28,296.47 L638.68,296.41 L639.07,296.36 L639.46,296.3 L639.85,296.24 L640.24,296.18 L640.63,296.12 L641.02,296.06 L641.41,296 L641.8,295.94 L642.19,295.87 L642.58,295.81 L642.97,295.74 L643.36,295.67 L643.75,295.59 L644.15,295.52 L644.54,295.44 L644.93,295.36 L645.32,295.28 L645.71,295.2 L646.1,295.12 L646.49,295.03 L646.88,294.94 L647.27,294.85 L647.66,294.76 L648.05,294.66 L648.44,294.56 L648.83,294.47 L649.22,294.36 L649.62,294.26 L650.01,294.16 L650.4,294.05 L650.79,293.94 L651.18,293.83 L651.57,293.72 L651.96,293.6 L652.35,293.49 L652.74,293.37 L653.13,293.25 L653.52,293.13 L653.91,293 L654.3,292.87 L654.69,292.75 L655.08,292.61 L655.48,292.48 L655.87,292.34 L656.26,292.2 L656.65,292.05 L657.04,291.9 L657.43,291.75 L657.82,291.59 L658.21,291.43 L658.6,291.26 L658.99,291.08 L659.38,290.91 L659.77,290.72 L660.16,290.53 L660.55,290.34 L660.95,290.14 L661.34,289.93 L661.73,289.71 L662.12,289.49 L662.51,289.26 L662.9,289.03 L663.29,288.78 L663.68,288.53 L664.07,288.27 L664.46,288.01 L664.85,287.73 L665.24,287.42 L665.63,287.07 L666.02,286.69 L666.42,286.29 L666.81,285.86 L667.2,285.41 L667.59,284.94 L667.98,284.46 L668.37,283.96 L668.76,283.46 L669.15,282.95 L669.54,282.43 L669.93,281.92 L670.32,281.41 L670.71,280.91 L671.1,280.41 L671.49,279.89 L671.88,279.3 L672.28,278.65 L672.67,277.97 L673.06,277.28 L673.45,276.59 L673.84,275.94 L674.23,275.33 L674.62,274.79 L675.01,274.35 L675.4,274.01 L675.79,273.81 L676.18,273.77 L676.57,273.8 L676.96,273.87 L677.35,273.98 L677.75,274.12 L678.14,274.28 L678.53,274.46 L678.92,274.65 L679.31,274.85 L679.7,275.05 L680.09,275.25 L680.48,275.45 L680.87,275.66 L681.26,275.9 L681.65,276.16 L682.04,276.43 L682.43,276.72 L682.82,277.01 L683.22,277.32 L683.61,277.63 L684,277.94 L684.39,278.26 L684.78,278.57 L685.17,278.87 L685.56,279.17 L685.95,279.47 L686.34,279.78 L686.73,280.09 L687.12,280.41 L687.51,280.73 L687.9,281.06 L688.29,281.38 L688.69,281.71 L689.08,282.04 L689.47,282.36 L689.86,282.69 L690.25,283.01 L690.64,283.34 L691.03,283.65 L691.42,283.97 L691.81,284.28 L692.2,284.58 L692.59,284.88 L692.98,285.17 L693.37,285.45 L693.76,285.72 L694.15,286 L694.55,286.27 L694.94,286.54 L695.33,286.81 L695.72,287.08 L696.11,287.34 L696.5,287.6 L696.89,287.86 L697.28,288.11 L697.67,288.36 L698.06,288.61 L698.45,288.85 L698.84,289.09 L699.23,289.33 L699.62,289.56 L700.02,289.79 L700.41,290.02 L700.8,290.24 L701.19,290.45 L701.58,290.67 L701.97,290.88 L702.36,291.1 L702.75,291.31 L703.14,291.53 L703.53,291.74 L703.92,291.95 L704.31,292.15 L704.7,292.36 L705.09,292.55 L705.49,292.75 L705.88,292.94 L706.27,293.12 L706.66,293.29 L707.05,293.46 L707.44,293.63 L707.83,293.78 L708.22,293.93 L708.61,294.06 L709,294.19 L709.39,294.32 L709.78,294.45 L710.17,294.58 L710.56,294.71 L710.96,294.84 L711.35,294.97 L711.74,295.09 L712.13,295.21 L712.52,295.33 L712.91,295.44 L713.3,295.54 L713.69,295.64 L714.08,295.73 L714.47,295.81 L714.86,295.88 L715.25,295.93 L715.64,295.98 L716.03,296.01 L716.42,296.03 L716.82,296.03 L717.21,296.03 L717.6,296.03 L717.99,296.03 L718.38,296.03 L718.77,296.03 L719.16,296.03 L719.55,296.03 L719.94,296.03 L720.33,296.03 L720.72,296.03 L721.11,296.03 L721.5,296.03 L721.89,296.03 L722.29,296.03 L722.68,296.03 L723.07,296.03 L723.46,296.03 L723.85,296.03 L724.24,296.03 L724.63,296.03 L725.02,296.02 L725.41,296.01 L725.8,295.99 L726.19,295.97 L726.58,295.94 L726.97,295.91 L727.36,295.88 L727.76,295.84 L728.15,295.79 L728.54,295.74 L728.93,295.69 L729.32,295.64 L729.71,295.58 L730.1,295.53 L730.49,295.47 L730.88,295.41 L731.27,295.34 L731.66,295.28 L732.05,295.22 L732.44,295.15 L732.83,295.09 L733.23,295.03 L733.62,294.97 L734.01,294.9 L734.4,294.85 L734.79,294.79 L735.18,294.73 L735.57,294.67 L735.96,294.61 L736.35,294.54 L736.74,294.48 L737.13,294.41 L737.52,294.34 L737.91,294.27 L738.3,294.2 L738.69,294.12 L739.09,294.05 L739.48,293.97 L739.87,293.9 L740.26,293.82 L740.65,293.74 L741.04,293.67 L741.43,293.59 L741.82,293.52 L742.21,293.44 L742.6,293.37 L742.99,293.29 L743.38,293.22 L743.77,293.15 L744.16,293.08 L744.56,293.01 L744.95,292.95 L745.34,292.88 L745.73,292.82 L746.12,292.76 L746.51,292.7 L746.9,292.64 L747.29,292.57 L747.68,292.51 L748.07,292.45 L748.46,292.39 L748.85,292.34 L749.24,292.28 L749.63,292.22 L750.03,292.16 L750.42,292.1 L750.81,292.05 L751.2,291.99 L751.59,291.93 L751.98,291.88 L752.37,291.82 L752.76,291.76 L753.15,291.71 L753.54,291.65 L753.93,291.6 L754.32,291.55 L754.71,291.49 L755.1,291.44 L755.49,291.38 L755.89,291.33 L756.28,291.28 L756.67,291.23 L757.06,291.17 L757.45,291.12 L757.84,291.07 L758.23,291.02 L758.62,290.97 L759.01,290.91 L759.4,290.86 L759.79,290.8 L760.18,290.74 L760.57,290.68 L760.96,290.62 L761.36,290.55 L761.75,290.49 L762.14,290.43 L762.53,290.37 L762.92,290.3 L763.31,290.24 L763.7,290.18 L764.09,290.12 L764.48,290.06 L764.87,290 L765.26,289.94 L765.65,289.89 L766.04,289.84 L766.43,289.79 L766.83,289.74 L767.22,289.69 L767.61,289.65 L768,289.61 L768.39,289.58 L768.78,289.54 L769.17,289.52 L769.56,289.49 L769.95,289.47 L770.34,289.46 L770.73,289.45 L771.12,289.44 L771.51,289.44 L771.9,289.44 L772.3,289.44 L772.69,289.44 L773.08,289.44 L773.47,289.44 L773.86,289.44 L774.25,289.44 L774.64,289.44 L775.03,289.44 L775.42,289.44 L775.81,289.44 L776.2,289.44 L776.59,289.44 L776.98,289.46 L777.37,289.48 L777.76,289.52 L778.16,289.57 L778.55,289.63 L778.94,289.7 L779.33,289.78 L779.72,289.87 L780.11,289.96 L780.5,290.06 L780.89,290.16 L781.28,290.27 L781.67,290.38 L782.06,290.5 L782.45,290.66 L782.84,290.84 L783.23,291.05 L783.63,291.28 L784.02,291.54 L784.41,291.81 L784.8,292.1 L785.19,292.4 L785.58,292.72 L785.97,293.05 L786.36,293.38 L786.75,293.72 L787.14,294.06 L787.53,294.4 L787.92,294.74 L788.31,295.07 L788.7,295.4 L789.1,295.72 L789.49,296.02 L789.88,296.32 L790.27,296.62 L790.66,296.92 L791.05,297.22 L791.44,297.53 L791.83,297.84 L792.22,298.14 L792.61,298.45 L793,298.77 L793.39,299.08 L793.78,299.39 L794.17,299.71 L794.57,300.03 L794.96,300.35 L795.35,300.67 L795.74,300.99 L796.13,301.32 L796.52,301.64 L796.91,301.97 L797.3,302.3" fill="none" stroke="#3cdc3c" stroke-width="1.25" stroke-linejoin="round" stroke-linecap="round" />
<path d="M524.2,302.3 L524.59,302.3 L524.98,302.3 L525.37,302.3 L525.76,302.3 L526.15,302.3 L526.54,302.29 L526.93,302.29 L527.33,302.29 L527.72,302.29 L528.11,302.29 L528.5,302.29 L528.89,302.28 L529.28,302.28 L529.67,302.28 L530.06,302.28 L530.45,302.28 L530.84,302.27 L531.23,302.27 L531.62,302.27 L532.01,302.26 L532.4,302.26 L532.8,302.26 L533.19,302.25 L533.58,302.25 L533.97,302.25 L534.36,302.24 L534.75,302.24 L535.14,302.24 L535.53,302.23 L535.92,302.23 L536.31,302.23 L536.7,302.22 L537.09,302.22 L537.48,302.21 L537.87,302.21 L538.27,302.21 L538.66,302.2 L539.05,302.2 L539.44,302.19 L539.83,302.19 L540.22,302.18 L540.61,302.18 L541,302.17 L541.39,302.17 L541.78,302.16 L542.17,302.16 L542.56,302.15 L542.95,302.15 L543.34,302.14 L543.74,302.14 L544.13,302.13 L544.52,302.13 L544.91,302.12 L545.3,302.12 L545.69,302.11 L546.08,302.11 L546.47,302.1 L546.86,302.1 L547.25,302.09 L547.64,302.09 L548.03,302.08 L548.42,302.07 L548.81,302.07 L549.2,302.06 L549.6,302.06 L549.99,302.05 L550.38,302.05 L550.77,302.04 L551.16,302.04 L551.55,302.03 L551.94,302.02 L552.33,302.02 L552.72,302.01 L553.11,302 L553.5,302 L553.89,301.99 L554.28,301.98 L554.67,301.97 L555.07,301.97 L555.46,301.96 L555.85,301.95 L556.24,301.94 L556.63,301.93 L557.02,301.92 L557.41,301.92 L557.8,301.91 L558.19,301.9 L558.58,301.89 L558.97,301.88 L559.36,301.87 L559.75,301.86 L560.14,301.85 L560.54,301.84 L560.93,301.83 L561.32,301.82 L561.71,301.81 L562.1,301.8 L562.49,301.79 L562.88,301.78 L563.27,301.77 L563.66,301.76 L564.05,301.74 L564.44,301.73 L564.83,301.72 L565.22,301.71 L565.61,301.7 L566.01,301.69 L566.4,301.68 L566.79,301.66 L567.18,301.65 L567.57,301.64 L567.96,301.63 L568.35,301.62 L568.74,301.6 L569.13,301.59 L569.52,301.58 L569.91,301.57 L570.3,301.55 L570.69,301.54 L571.08,301.53 L571.47,301.52 L571.87,301.5 L572.26,301.49 L572.65,301.48 L573.04,301.47 L573.43,301.45 L573.82,301.44 L574.21,301.43 L574.6,301.41 L574.99,301.4 L575.38,301.39 L575.77,301.37 L576.16,301.36 L576.55,301.35 L576.94,301.33 L577.34,301.32 L577.73,301.31 L578.12,301.29 L578.51,301.28 L578.9,301.26 L579.29,301.25 L579.68,301.23 L580.07,301.22 L580.46,301.2 L580.85,301.19 L581.24,301.17 L581.63,301.15 L582.02,301.14 L582.41,301.12 L582.81,301.1 L583.2,301.09 L583.59,301.07 L583.98,301.05 L584.37,301.03 L584.76,301.01 L585.15,301 L585.54,300.98 L585.93,300.96 L586.32,300.94 L586.71,300.92 L587.1,300.9 L587.49,300.88 L587.88,300.86 L588.27,300.84 L588.67,300.82 L589.06,300.8 L589.45,300.78 L589.84,300.76 L590.23,300.74 L590.62,300.72 L591.01,300.7 L591.4,300.68 L591.79,300.66 L592.18,300.64 L592.57,300.61 L592.96,300.59 L593.35,300.57 L593.74,300.55 L594.14,300.52 L594.53,300.5 L594.92,300.48 L595.31,300.45 L595.7,300.43 L596.09,300.4 L596.48,300.38 L596.87,300.36 L597.26,300.33 L597.65,300.31 L598.04,300.28 L598.43,300.26 L598.82,300.23 L599.21,300.2 L599.61,300.18 L600,300.15 L600.39,300.13 L600.78,300.1 L601.17,300.07 L601.56,300.05 L601.95,300.02 L602.34,299.99 L602.73,299.97 L603.12,299.94 L603.51,299.91 L603.9,299.89 L604.29,299.86 L604.68,299.83 L605.08,299.8 L605.47,299.77 L605.86,299.75 L606.25,299.72 L606.64,299.69 L607.03,299.66 L607.42,299.63 L607.81,299.6 L608.2,299.57 L608.59,299.55 L608.98,299.52 L609.37,299.49 L609.76,299.46 L610.15,299.43 L610.54,299.4 L610.94,299.37 L611.33,299.34 L611.72,299.31 L612.11,299.28 L612.5,299.25 L612.89,299.22 L613.28,299.19 L613.67,299.16 L614.06,299.13 L614.45,299.1 L614.84,299.07 L615.23,299.04 L615.62,299.01 L616.01,298.98 L616.41,298.95 L616.8,298.92 L617.19,298.89 L617.58,298.86 L617.97,298.82 L618.36,298.79 L618.75,298.76 L619.14,298.73 L619.53,298.7 L619.92,298.67 L620.31,298.64 L620.7,298.61 L621.09,298.57 L621.48,298.54 L621.88,298.51 L622.27,298.48 L622.66,298.45 L623.05,298.41 L623.44,298.38 L623.83,298.35 L624.22,298.32 L624.61,298.28 L625,298.25 L625.39,298.22 L625.78,298.18 L626.17,298.15 L626.56,298.12 L626.95,298.08 L627.35,298.05 L627.74,298.01 L628.13,297.98 L628.52,297.94 L628.91,297.91 L629.3,297.87 L629.69,297.84 L630.08,297.8 L630.47,297.77 L630.86,297.73 L631.25,297.69 L631.64,297.66 L632.03,297.62 L632.42,297.58 L632.81,297.54 L633.21,297.51 L633.6,297.47 L633.99,297.43 L634.38,297.39 L634.77,297.35 L635.16,297.31 L635.55,297.27 L635.94,297.23 L636.33,297.19 L636.72,297.15 L637.11,297.11 L637.5,297.07 L637.89,297.03 L638.28,296.99 L638.68,296.94 L639.07,296.9 L639.46,296.86 L639.85,296.81 L640.24,296.77 L640.63,296.73 L641.02,296.68 L641.41,296.64 L641.8,296.59 L642.19,296.54 L642.58,296.5 L642.97,296.45 L643.36,296.4 L643.75,296.35 L644.15,296.31 L644.54,296.26 L644.93,296.21 L645.32,296.15 L645.71,296.1 L646.1,296.05 L646.49,296 L646.88,295.94 L647.27,295.89 L647.66,295.83 L648.05,295.78 L648.44,295.72 L648.83,295.66 L649.22,295.6 L649.62,295.55 L650.01,295.49 L650.4,295.42 L650.79,295.36 L651.18,295.3 L651.57,295.24 L651.96,295.17 L652.35,295.11 L652.74,295.04 L653.13,294.97 L653.52,294.9 L653.91,294.83 L654.3,294.76 L654.69,294.69 L655.08,294.62 L655.48,294.54 L655.87,294.45 L656.26,294.37 L656.65,294.28 L657.04,294.19 L657.43,294.1 L657.82,294.01 L658.21,293.91 L658.6,293.82 L658.99,293.72 L659.38,293.62 L659.77,293.52 L660.16,293.42 L660.55,293.32 L660.95,293.21 L661.34,293.11 L661.73,293.01 L662.12,292.91 L662.51,292.8 L662.9,292.7 L663.29,292.6 L663.68,292.5 L664.07,292.4 L664.46,292.3 L664.85,292.2 L665.24,292.11 L665.63,292.01 L666.02,291.92 L666.42,291.83 L666.81,291.74 L667.2,291.65 L667.59,291.56 L667.98,291.47 L668.37,291.38 L668.76,291.29 L669.15,291.19 L669.54,291.1 L669.93,291 L670.32,290.9 L670.71,290.81 L671.1,290.72 L671.49,290.63 L671.88,290.55 L672.28,290.46 L672.67,290.39 L673.06,290.32 L673.45,290.25 L673.84,290.2 L674.23,290.15 L674.62,290.11 L675.01,290.07 L675.4,290.05 L675.79,290.02 L676.18,290 L676.57,289.97 L676.96,289.95 L677.35,289.93 L677.75,289.91 L678.14,289.89 L678.53,289.87 L678.92,289.85 L679.31,289.83 L679.7,289.82 L680.09,289.81 L680.48,289.79 L680.87,289.78 L681.26,289.77 L681.65,289.77 L682.04,289.76 L682.43,289.76 L682.82,289.76 L683.22,289.76 L683.61,289.77 L684,289.78 L684.39,289.8 L684.78,289.82 L685.17,289.85 L685.56,289.88 L685.95,289.92 L686.34,289.95 L686.73,290 L687.12,290.04 L687.51,290.09 L687.9,290.14 L688.29,290.2 L688.69,290.26 L689.08,290.31 L689.47,290.38 L689.86,290.44 L690.25,290.5 L690.64,290.57 L691.03,290.63 L691.42,290.7 L691.81,290.76 L692.2,290.83 L692.59,290.9 L692.98,290.96 L693.37,291.03 L693.76,291.1 L694.15,291.18 L694.55,291.26 L694.94,291.35 L695.33,291.45 L695.72,291.55 L696.11,291.66 L696.5,291.77 L696.89,291.88 L697.28,292 L697.67,292.12 L698.06,292.24 L698.45,292.37 L698.84,292.5 L699.23,292.63 L699.62,292.76 L700.02,292.89 L700.41,293.02 L700.8,293.16 L701.19,293.29 L701.58,293.42 L701.97,293.55 L702.36,293.68 L702.75,293.8 L703.14,293.92 L703.53,294.04 L703.92,294.16 L704.31,294.28 L704.7,294.39 L705.09,294.49 L705.49,294.59 L705.88,294.69 L706.27,294.77 L706.66,294.86 L707.05,294.95 L707.44,295.04 L707.83,295.14 L708.22,295.23 L708.61,295.33 L709,295.42 L709.39,295.52 L709.78,295.61 L710.17,295.71 L710.56,295.8 L710.96,295.89 L711.35,295.98 L711.74,296.06 L712.13,296.14 L712.52,296.22 L712.91,296.29 L713.3,296.35 L713.69,296.42 L714.08,296.47 L714.47,296.52 L714.86,296.56 L715.25,296.6 L715.64,296.62 L716.03,296.64 L716.42,296.65 L716.82,296.66 L717.21,296.65 L717.6,296.65 L717.99,296.65 L718.38,296.64 L718.77,296.63 L719.16,296.62 L719.55,296.61 L719.94,296.6 L720.33,296.59 L720.72,296.57 L721.11,296.56 L721.5,296.54 L721.89,296.53 L722.29,296.51 L722.68,296.49 L723.07,296.47 L723.46,296.45 L723.85,296.42 L724.24,296.4 L724.63,296.38 L725.02,296.35 L725.41,296.33 L725.8,296.3 L726.19,296.28 L726.58,296.25 L726.97,296.22 L727.36,296.19 L727.76,296.17 L728.15,296.14 L728.54,296.11 L728.93,296.08 L729.32,296.05 L729.71,296.03 L730.1,296 L730.49,295.96 L730.88,295.93 L731.27,295.89 L731.66,295.85 L732.05,295.8 L732.44,295.75 L732.83,295.7 L733.23,295.65 L733.62,295.6 L734.01,295.54 L734.4,295.49 L734.79,295.43 L735.18,295.37 L735.57,295.3 L735.96,295.24 L736.35,295.17 L736.74,295.1 L737.13,295.04 L737.52,294.97 L737.91,294.9 L738.3,294.83 L738.69,294.75 L739.09,294.68 L739.48,294.61 L739.87,294.53 L740.26,294.46 L740.65,294.38 L741.04,294.31 L741.43,294.23 L741.82,294.16 L742.21,294.09 L742.6,294.01 L742.99,293.94 L743.38,293.86 L743.77,293.79 L744.16,293.72 L744.56,293.65 L744.95,293.58 L745.34,293.51 L745.73,293.44 L746.12,293.37 L746.51,293.3 L746.9,293.22 L747.29,293.15 L747.68,293.07 L748.07,292.99 L748.46,292.91 L748.85,292.83 L749.24,292.75 L749.63,292.67 L750.03,292.59 L750.42,292.51 L750.81,292.43 L751.2,292.34 L751.59,292.26 L751.98,292.18 L752.37,292.1 L752.76,292.02 L753.15,291.94 L753.54,291.86 L753.93,291.78 L754.32,291.7 L754.71,291.63 L755.1,291.55 L755.49,291.48 L755.89,291.41 L756.28,291.34 L756.67,291.27 L757.06,291.21 L757.45,291.14 L757.84,291.08 L758.23,291.02 L758.62,290.96 L759.01,290.9 L759.4,290.84 L759.79,290.78 L760.18,290.72 L760.57,290.65 L760.96,290.59 L761.36,290.52 L761.75,290.46 L762.14,290.4 L762.53,290.33 L762.92,290.27 L763.31,290.21 L763.7,290.15 L764.09,290.09 L764.48,290.03 L764.87,289.97 L765.26,289.92 L765.65,289.87 L766.04,289.82 L766.43,289.77 L766.83,289.72 L767.22,289.68 L767.61,289.64 L768,289.6 L768.39,289.57 L768.78,289.54 L769.17,289.51 L769.56,289.49 L769.95,289.47 L770.34,289.46 L770.73,289.45 L771.12,289.44 L771.51,289.44 L771.9,289.44 L772.3,289.44 L772.69,289.44 L773.08,289.44 L773.47,289.44 L773.86,289.44 L774.25,289.44 L774.64,289.44 L775.03,289.44 L775.42,289.44 L775.81,289.44 L776.2,289.44 L776.59,289.44 L776.98,289.44 L777.37,289.44 L777.76,289.44 L778.16,289.45 L778.55,289.48 L778.94,289.53 L779.33,289.59 L779.72,289.67 L780.11,289.76 L780.5,289.86 L780.89,289.98 L781.28,290.1 L781.67,290.23 L782.06,290.36 L782.45,290.5 L782.84,290.64 L783.23,290.79 L783.63,290.98 L784.02,291.21 L784.41,291.46 L784.8,291.75 L785.19,292.06 L785.58,292.39 L785.97,292.74 L786.36,293.11 L786.75,293.48 L787.14,293.86 L787.53,294.24 L787.92,294.61 L788.31,294.98 L788.7,295.35 L789.1,295.69 L789.49,296.02 L789.88,296.34 L790.27,296.65 L790.66,296.97 L791.05,297.29 L791.44,297.6 L791.83,297.92 L792.22,298.23 L792.61,298.55 L793,298.86 L793.39,299.18 L793.78,299.49 L794.17,299.8 L794.57,300.12 L794.96,300.43 L795.35,300.74 L795.74,301.05 L796.13,301.37 L796.52,301.68 L796.91,301.99 L797.3,302.3" fill="none" stroke="#2222b0" stroke-width="1.45" stroke-linejoin="round" stroke-linecap="round" />
<line x1="589.22" y1="302.3" x2="589.22" y2="299.8" stroke="#000" stroke-width="1"/>
<line x1="589.22" y1="82.8" x2="589.22" y2="85.3" stroke="#000" stroke-width="1"/>
<line x1="654.25" y1="302.3" x2="654.25" y2="299.8" stroke="#000" stroke-width="1"/>
<line x1="654.25" y1="82.8" x2="654.25" y2="85.3" stroke="#000" stroke-width="1"/>
<line x1="719.27" y1="302.3" x2="719.27" y2="299.8" stroke="#000" stroke-width="1"/>
<line x1="719.27" y1="82.8" x2="719.27" y2="85.3" stroke="#000" stroke-width="1"/>
<line x1="524.2" y1="270.94" x2="526.7" y2="270.94" stroke="#000" stroke-width="1"/>
<line x1="797.3" y1="270.94" x2="794.8" y2="270.94" stroke="#000" stroke-width="1"/>
<line x1="524.2" y1="239.59" x2="526.7" y2="239.59" stroke="#000" stroke-width="1"/>
<line x1="797.3" y1="239.59" x2="794.8" y2="239.59" stroke="#000" stroke-width="1"/>
<line x1="524.2" y1="208.23" x2="526.7" y2="208.23" stroke="#000" stroke-width="1"/>
<line x1="797.3" y1="208.23" x2="794.8" y2="208.23" stroke="#000" stroke-width="1"/>
<line x1="524.2" y1="176.87" x2="526.7" y2="176.87" stroke="#000" stroke-width="1"/>
<line x1="797.3" y1="176.87" x2="794.8" y2="176.87" stroke="#000" stroke-width="1"/>
<line x1="524.2" y1="145.51" x2="526.7" y2="145.51" stroke="#000" stroke-width="1"/>
<line x1="797.3" y1="145.51" x2="794.8" y2="145.51" stroke="#000" stroke-width="1"/>
<line x1="524.2" y1="114.16" x2="526.7" y2="114.16" stroke="#000" stroke-width="1"/>
<line x1="797.3" y1="114.16" x2="794.8" y2="114.16" stroke="#000" stroke-width="1"/>
<rect x="524.2" y="82.8" width="273.0999999999999" height="219.5" fill="none" stroke="#000" stroke-width="1.3"/>
<text x="524.2" y="314.1" font-size="8.0" text-anchor="middle" font-weight="normal" fill="#333" font-family='"Liberation Sans", sans-serif' >1.25</text>
<text x="589.22" y="314.1" font-size="8.0" text-anchor="middle" font-weight="normal" fill="#333" font-family='"Liberation Sans", sans-serif' >1.5</text>
<text x="654.25" y="314.1" font-size="8.0" text-anchor="middle" font-weight="normal" fill="#333" font-family='"Liberation Sans", sans-serif' >1.75</text>
<text x="719.27" y="314.1" font-size="8.0" text-anchor="middle" font-weight="normal" fill="#333" font-family='"Liberation Sans", sans-serif' >2</text>
<text x="797.3" y="314.1" font-size="8.0" text-anchor="middle" font-weight="normal" fill="#333" font-family='"Liberation Sans", sans-serif' >2.3</text>
<text x="520.2" y="305.2" font-size="8.0" text-anchor="end" font-weight="normal" fill="#333" font-family='"Liberation Sans", sans-serif' >0</text>
<text x="520.2" y="273.84" font-size="8.0" text-anchor="end" font-weight="normal" fill="#333" font-family='"Liberation Sans", sans-serif' >0.5</text>
<text x="520.2" y="242.49" font-size="8.0" text-anchor="end" font-weight="normal" fill="#333" font-family='"Liberation Sans", sans-serif' >1</text>
<text x="520.2" y="211.13" font-size="8.0" text-anchor="end" font-weight="normal" fill="#333" font-family='"Liberation Sans", sans-serif' >1.5</text>
<text x="520.2" y="179.77" font-size="8.0" text-anchor="end" font-weight="normal" fill="#333" font-family='"Liberation Sans", sans-serif' >2</text>
<text x="520.2" y="148.41" font-size="8.0" text-anchor="end" font-weight="normal" fill="#333" font-family='"Liberation Sans", sans-serif' >2.5</text>
<text x="520.2" y="117.06" font-size="8.0" text-anchor="end" font-weight="normal" fill="#333" font-family='"Liberation Sans", sans-serif' >3</text>
<text x="520.2" y="85.7" font-size="8.0" text-anchor="end" font-weight="normal" fill="#333" font-family='"Liberation Sans", sans-serif' >3.5</text>
<text x="661.25" y="327.5" font-size="9.2" text-anchor="middle" font-weight="normal" fill="#333" font-family='"Liberation Sans", sans-serif' >Frequency (Hz)</text>
<text x="0" y="0" font-size="8.8" text-anchor="middle" font-weight="normal" fill="#333" font-family='"Liberation Sans", sans-serif' transform="translate(503.4,189.55) rotate(-90) scale(1.2,1)">Acceleration (m/s<tspan font-size="6" dy="-3.4">2</tspan><tspan dy="3.4">)</tspan></text>
<text x="661.25" y="78.5" font-size="9.1" text-anchor="middle" font-weight="bold" fill="#222" font-family='"Liberation Sans", sans-serif' >HR Verticale X=L/2</text>
<rect x="531" y="89" width="71.3" height="35" fill="#fff" stroke="#000" stroke-width="1.2"/>
<line x1="533.5" y1="96" x2="558" y2="96" stroke="#111" stroke-width="1.3"/>
<text x="560" y="98.7" font-size="7.7" text-anchor="start" font-weight="normal" fill="#222" font-family='"Liberation Sans", sans-serif' >Senza TMD</text>
<line x1="533.5" y1="107" x2="558" y2="107" stroke="#3cdc3c" stroke-width="1.3"/>
<text x="560" y="109.7" font-size="7.7" text-anchor="start" font-weight="normal" fill="#222" font-family='"Liberation Sans", sans-serif' >mbym</text>
<line x1="533.5" y1="117.4" x2="558" y2="117.4" stroke="#2222b0" stroke-width="1.5"/>
<text x="560" y="120.1" font-size="7.7" text-anchor="start" font-weight="normal" fill="#222" font-family='"Liberation Sans", sans-serif' >3 TMD</text>
<rect x="563.2" y="239.3" width="104.5" height="24.8" fill="#fbe5d6" stroke="#222" stroke-width="1"/>
<text x="613.95" y="255.7" font-size="13.4" letter-spacing="-0.35" text-anchor="middle" fill="#111" font-family='"Liberation Serif", serif'>Amax=0.22 m/s<tspan font-size="7.5" dy="-5">2</tspan></text>
<rect x="524.4" y="358.3" width="272.9" height="222.49999999999994" fill="#fff"/>
<line x1="589.38" y1="358.3" x2="589.38" y2="580.8" stroke="#d6d6d6" stroke-width="0.8"/>
<line x1="654.35" y1="358.3" x2="654.35" y2="580.8" stroke="#d6d6d6" stroke-width="0.8"/>
<line x1="719.33" y1="358.3" x2="719.33" y2="580.8" stroke="#d6d6d6" stroke-width="0.8"/>
<line x1="524.4" y1="552.99" x2="797.3" y2="552.99" stroke="#d6d6d6" stroke-width="0.8"/>
<line x1="524.4" y1="525.17" x2="797.3" y2="525.17" stroke="#d6d6d6" stroke-width="0.8"/>
<line x1="524.4" y1="497.36" x2="797.3" y2="497.36" stroke="#d6d6d6" stroke-width="0.8"/>
<line x1="524.4" y1="469.55" x2="797.3" y2="469.55" stroke="#d6d6d6" stroke-width="0.8"/>
<line x1="524.4" y1="441.74" x2="797.3" y2="441.74" stroke="#d6d6d6" stroke-width="0.8"/>
<line x1="524.4" y1="413.93" x2="797.3" y2="413.93" stroke="#d6d6d6" stroke-width="0.8"/>
<line x1="524.4" y1="386.11" x2="797.3" y2="386.11" stroke="#d6d6d6" stroke-width="0.8"/>
<path d="M524.4,580.8 L524.79,579.68 L525.18,578.63 L525.57,577.67 L525.96,576.8 L526.35,576.02 L526.74,575.3 L527.13,574.56 L527.52,573.94 L527.91,573.59 L528.3,573.6 L528.69,573.74 L529.08,573.97 L529.48,574.25 L529.87,574.55 L530.26,574.85 L530.65,575.11 L531.04,575.3 L531.43,575.47 L531.82,575.63 L532.21,575.79 L532.6,575.94 L532.99,576.09 L533.38,576.23 L533.77,576.37 L534.16,576.5 L534.55,576.63 L534.94,576.76 L535.33,576.88 L535.72,576.99 L536.11,577.11 L536.5,577.22 L536.89,577.33 L537.28,577.43 L537.67,577.54 L538.06,577.64 L538.45,577.73 L538.85,577.83 L539.24,577.92 L539.63,578.01 L540.02,578.1 L540.41,578.19 L540.8,578.27 L541.19,578.36 L541.58,578.44 L541.97,578.52 L542.36,578.6 L542.75,578.67 L543.14,578.75 L543.53,578.82 L543.92,578.9 L544.31,578.97 L544.7,579.04 L545.09,579.11 L545.48,579.18 L545.87,579.25 L546.26,579.32 L546.65,579.38 L547.04,579.45 L547.43,579.51 L547.82,579.57 L548.22,579.63 L548.61,579.7 L549,579.75 L549.39,579.81 L549.78,579.87 L550.17,579.93 L550.56,579.99 L550.95,580.06 L551.34,580.13 L551.73,580.2 L552.12,580.28 L552.51,580.35 L552.9,580.41 L553.29,580.46 L553.68,580.5 L554.07,580.52 L554.46,580.52 L554.85,580.45 L555.24,580.33 L555.63,580.15 L556.02,579.93 L556.41,579.65 L556.8,579.34 L557.19,579 L557.59,578.63 L557.98,578.24 L558.37,577.82 L558.76,577.26 L559.15,576.55 L559.54,575.69 L559.93,574.69 L560.32,573.56 L560.71,572.3 L561.1,570.91 L561.49,569.41 L561.88,567.79 L562.27,566 L562.66,563.6 L563.05,560.64 L563.44,557.21 L563.83,553.45 L564.22,549.48 L564.61,545.4 L565,540.47 L565.39,533.92 L565.78,527.39 L566.17,522.54 L566.56,521.07 L566.96,524.39 L567.35,530.79 L567.74,537.65 L568.13,542.42 L568.52,545.75 L568.91,548.81 L569.3,551.58 L569.69,554.03 L570.08,556.13 L570.47,557.85 L570.86,559.2 L571.25,560.42 L571.64,561.54 L572.03,562.55 L572.42,563.44 L572.81,564.21 L573.2,564.84 L573.59,565.32 L573.98,565.67 L574.37,565.97 L574.76,566.25 L575.15,566.51 L575.54,566.75 L575.93,566.97 L576.33,567.17 L576.72,567.36 L577.11,567.53 L577.5,567.69 L577.89,567.85 L578.28,567.99 L578.67,568.13 L579.06,568.26 L579.45,568.39 L579.84,568.52 L580.23,568.64 L580.62,568.78 L581.01,568.91 L581.4,569.05 L581.79,569.2 L582.18,569.35 L582.57,569.49 L582.96,569.63 L583.35,569.77 L583.74,569.91 L584.13,570.05 L584.52,570.18 L584.91,570.31 L585.3,570.44 L585.7,570.57 L586.09,570.69 L586.48,570.81 L586.87,570.93 L587.26,571.05 L587.65,571.16 L588.04,571.27 L588.43,571.38 L588.82,571.48 L589.21,571.58 L589.6,571.68 L589.99,571.77 L590.38,571.87 L590.77,571.96 L591.16,572.06 L591.55,572.15 L591.94,572.24 L592.33,572.33 L592.72,572.41 L593.11,572.5 L593.5,572.59 L593.89,572.67 L594.28,572.76 L594.67,572.84 L595.07,572.92 L595.46,573 L595.85,573.08 L596.24,573.16 L596.63,573.24 L597.02,573.31 L597.41,573.39 L597.8,573.46 L598.19,573.54 L598.58,573.61 L598.97,573.68 L599.36,573.75 L599.75,573.82 L600.14,573.89 L600.53,573.96 L600.92,574.03 L601.31,574.09 L601.7,574.16 L602.09,574.22 L602.48,574.29 L602.87,574.35 L603.26,574.41 L603.65,574.48 L604.04,574.54 L604.44,574.6 L604.83,574.66 L605.22,574.72 L605.61,574.78 L606,574.84 L606.39,574.91 L606.78,574.97 L607.17,575.03 L607.56,575.1 L607.95,575.16 L608.34,575.23 L608.73,575.3 L609.12,575.36 L609.51,575.43 L609.9,575.49 L610.29,575.56 L610.68,575.62 L611.07,575.69 L611.46,575.75 L611.85,575.81 L612.24,575.87 L612.63,575.93 L613.02,575.99 L613.41,576.05 L613.81,576.1 L614.2,576.15 L614.59,576.2 L614.98,576.25 L615.37,576.3 L615.76,576.34 L616.15,576.38 L616.54,576.42 L616.93,576.46 L617.32,576.49 L617.71,576.52 L618.1,576.55 L618.49,576.57 L618.88,576.59 L619.27,576.61 L619.66,576.62 L620.05,576.62 L620.44,576.63 L620.83,576.63 L621.22,576.62 L621.61,576.62 L622,576.61 L622.39,576.6 L622.78,576.58 L623.17,576.57 L623.57,576.55 L623.96,576.53 L624.35,576.5 L624.74,576.48 L625.13,576.45 L625.52,576.42 L625.91,576.39 L626.3,576.36 L626.69,576.32 L627.08,576.29 L627.47,576.25 L627.86,576.21 L628.25,576.17 L628.64,576.13 L629.03,576.09 L629.42,576.05 L629.81,576 L630.2,575.96 L630.59,575.91 L630.98,575.87 L631.37,575.82 L631.76,575.77 L632.15,575.72 L632.54,575.68 L632.94,575.63 L633.33,575.58 L633.72,575.53 L634.11,575.48 L634.5,575.44 L634.89,575.39 L635.28,575.34 L635.67,575.3 L636.06,575.25 L636.45,575.2 L636.84,575.16 L637.23,575.11 L637.62,575.06 L638.01,575.01 L638.4,574.96 L638.79,574.9 L639.18,574.85 L639.57,574.79 L639.96,574.74 L640.35,574.68 L640.74,574.62 L641.13,574.56 L641.52,574.5 L641.91,574.43 L642.31,574.37 L642.7,574.3 L643.09,574.23 L643.48,574.16 L643.87,574.09 L644.26,574.02 L644.65,573.95 L645.04,573.87 L645.43,573.8 L645.82,573.72 L646.21,573.64 L646.6,573.56 L646.99,573.48 L647.38,573.4 L647.77,573.32 L648.16,573.24 L648.55,573.16 L648.94,573.08 L649.33,573 L649.72,572.91 L650.11,572.82 L650.5,572.72 L650.89,572.62 L651.28,572.51 L651.68,572.4 L652.07,572.27 L652.46,572.14 L652.85,572 L653.24,571.84 L653.63,571.68 L654.02,571.5 L654.41,571.32 L654.8,571.08 L655.19,570.78 L655.58,570.42 L655.97,570 L656.36,569.53 L656.75,569.01 L657.14,568.44 L657.53,567.83 L657.92,567.18 L658.31,566.49 L658.7,565.77 L659.09,565.02 L659.48,564.25 L659.87,563.41 L660.26,562.45 L660.65,561.36 L661.05,560.16 L661.44,558.86 L661.83,557.45 L662.22,555.96 L662.61,554.39 L663,552.74 L663.39,551.03 L663.78,549.25 L664.17,547.43 L664.56,545.56 L664.95,543.65 L665.34,541.61 L665.73,539.43 L666.12,537.13 L666.51,534.7 L666.9,532.15 L667.29,529.48 L667.68,526.69 L668.07,523.8 L668.46,520.79 L668.85,517.69 L669.24,514.49 L669.63,511.19 L670.02,507.8 L670.42,504.08 L670.81,499.98 L671.2,495.59 L671.59,490.98 L671.98,486.23 L672.37,481.42 L672.76,476.62 L673.15,471.92 L673.54,467.38 L673.93,463.06 L674.32,458.11 L674.71,452.78 L675.1,447.88 L675.49,444.21 L675.88,442.59 L676.27,444.28 L676.66,449.4 L677.05,456.53 L677.44,464.19 L677.83,471.01 L678.22,477.85 L678.61,485.25 L679,492.97 L679.39,500.8 L679.79,508.49 L680.18,515.82 L680.57,522.58 L680.96,528.51 L681.35,533.6 L681.74,538.54 L682.13,543.34 L682.52,547.91 L682.91,552.15 L683.3,555.97 L683.69,559.28 L684.08,561.98 L684.47,563.99 L684.86,565.53 L685.25,566.98 L685.64,568.25 L686.03,569.27 L686.42,569.96 L686.81,570.23 L687.2,569.91 L687.59,568.93 L687.98,567.38 L688.37,565.38 L688.76,563.05 L689.16,560.49 L689.55,557.77 L689.94,554.07 L690.33,549.22 L690.72,543.39 L691.11,536.77 L691.5,529.54 L691.89,521.87 L692.28,513.95 L692.67,505.96 L693.06,497.74 L693.45,488.24 L693.84,477.81 L694.23,466.94 L694.62,456.11 L695.01,445.81 L695.4,436.52 L695.79,427.11 L696.18,417.05 L696.57,408.15 L696.96,402.24 L697.35,401.14 L697.74,405.65 L698.13,413.95 L698.53,423.9 L698.92,433.32 L699.31,440.98 L699.7,448.84 L700.09,456.92 L700.48,464.99 L700.87,472.83 L701.26,480.2 L701.65,486.89 L702.04,492.67 L702.43,497.31 L702.82,501.18 L703.21,504.87 L703.6,508.34 L703.99,511.61 L704.38,514.66 L704.77,517.48 L705.16,520.08 L705.55,522.43 L705.94,524.55 L706.33,526.41 L706.72,528.01 L707.11,529.35 L707.5,530.51 L707.89,531.59 L708.29,532.6 L708.68,533.54 L709.07,534.4 L709.46,535.21 L709.85,535.97 L710.24,536.67 L710.63,537.33 L711.02,537.95 L711.41,538.54 L711.8,539.1 L712.19,539.63 L712.58,540.15 L712.97,540.65 L713.36,541.13 L713.75,541.6 L714.14,542.05 L714.53,542.48 L714.92,542.89 L715.31,543.28 L715.7,543.65 L716.09,544 L716.48,544.34 L716.87,544.65 L717.26,544.95 L717.66,545.23 L718.05,545.49 L718.44,545.74 L718.83,545.97 L719.22,546.21 L719.61,546.43 L720,546.65 L720.39,546.86 L720.78,547.06 L721.17,547.26 L721.56,547.45 L721.95,547.63 L722.34,547.81 L722.73,547.99 L723.12,548.16 L723.51,548.32 L723.9,548.48 L724.29,548.64 L724.68,548.79 L725.07,548.93 L725.46,549.08 L725.85,549.22 L726.24,549.35 L726.63,549.49 L727.03,549.62 L727.42,549.75 L727.81,549.88 L728.2,550.01 L728.59,550.14 L728.98,550.28 L729.37,550.41 L729.76,550.55 L730.15,550.68 L730.54,550.82 L730.93,550.95 L731.32,551.08 L731.71,551.21 L732.1,551.33 L732.49,551.46 L732.88,551.58 L733.27,551.69 L733.66,551.8 L734.05,551.91 L734.44,552.01 L734.83,552.11 L735.22,552.2 L735.61,552.29 L736,552.37 L736.4,552.44 L736.79,552.5 L737.18,552.56 L737.57,552.61 L737.96,552.65 L738.35,552.68 L738.74,552.7 L739.13,552.71 L739.52,552.69 L739.91,552.54 L740.3,552.24 L740.69,551.82 L741.08,551.27 L741.47,550.62 L741.86,549.89 L742.25,549.08 L742.64,548.22 L743.03,547.31 L743.42,546.37 L743.81,545.42 L744.2,544.46 L744.59,543.52 L744.98,542.61 L745.37,541.74 L745.77,540.9 L746.16,540.07 L746.55,539.24 L746.94,538.42 L747.33,537.59 L747.72,536.74 L748.11,535.88 L748.5,534.99 L748.89,534.08 L749.28,533.13 L749.67,532.14 L750.06,531.11 L750.45,530.02 L750.84,528.88 L751.23,527.67 L751.62,526.39 L752.01,525.04 L752.4,523.61 L752.79,522.1 L753.18,520.49 L753.57,518.78 L753.96,516.89 L754.35,514.65 L754.74,512.08 L755.14,509.19 L755.53,505.98 L755.92,502.48 L756.31,498.69 L756.7,494.63 L757.09,490.3 L757.48,485.72 L757.87,480.9 L758.26,475.85 L758.65,470.07 L759.04,462.9 L759.43,454.65 L759.82,445.68 L760.21,436.33 L760.6,426.94 L760.99,417.85 L761.38,409.41 L761.77,400.82 L762.16,391.05 L762.55,381.27 L762.94,372.64 L763.33,366.37 L763.72,363.62 L764.11,365.28 L764.51,370.69 L764.9,378.74 L765.29,388.28 L765.68,398.22 L766.07,407.41 L766.46,416.08 L766.85,425.58 L767.24,435.51 L767.63,445.45 L768.02,454.98 L768.41,463.67 L768.8,471.15 L769.19,478.01 L769.58,484.57 L769.97,490.85 L770.36,496.84 L770.75,502.52 L771.14,507.89 L771.53,512.94 L771.92,517.67 L772.31,522.07 L772.7,526.15 L773.09,530.3 L773.48,534.56 L773.88,538.73 L774.27,542.65 L774.66,546.12 L775.05,548.96 L775.44,551 L775.83,552.05 L776.22,552.14 L776.61,552.03 L777,551.83 L777.39,551.55 L777.78,551.2 L778.17,550.77 L778.56,550.29 L778.95,549.75 L779.34,549.17 L779.73,548.56 L780.12,547.91 L780.51,547.23 L780.9,546.27 L781.29,545 L781.68,543.45 L782.07,541.7 L782.46,539.78 L782.85,537.77 L783.25,535.7 L783.64,533.64 L784.03,531.64 L784.42,529.75 L784.81,528.03 L785.2,526.28 L785.59,524.31 L785.98,522.3 L786.37,520.38 L786.76,518.74 L787.15,517.52 L787.54,516.88 L787.93,517.16 L788.32,518.83 L788.71,521.58 L789.1,525.01 L789.49,528.73 L789.88,532.33 L790.27,535.71 L790.66,539.59 L791.05,543.87 L791.44,548.34 L791.83,552.82 L792.22,557.11 L792.62,561.01 L793.01,564.33 L793.4,566.86 L793.79,568.92 L794.18,570.94 L794.57,572.87 L794.96,574.68 L795.35,576.33 L795.74,577.78 L796.13,578.99 L796.52,579.92 L796.91,580.54 L797.3,580.8" fill="none" stroke="#111" stroke-width="1.25" stroke-linejoin="round" stroke-linecap="round" />
<path d="M524.4,580.8 L524.79,579.76 L525.18,578.81 L525.57,577.94 L525.96,577.18 L526.35,576.54 L526.74,575.97 L527.13,575.41 L527.52,574.95 L527.91,574.7 L528.3,574.7 L528.69,574.79 L529.08,574.94 L529.48,575.12 L529.87,575.32 L530.26,575.52 L530.65,575.7 L531.04,575.84 L531.43,575.97 L531.82,576.11 L532.21,576.23 L532.6,576.36 L532.99,576.49 L533.38,576.61 L533.77,576.73 L534.16,576.85 L534.55,576.96 L534.94,577.08 L535.33,577.19 L535.72,577.3 L536.11,577.41 L536.5,577.51 L536.89,577.61 L537.28,577.71 L537.67,577.81 L538.06,577.91 L538.45,578.01 L538.85,578.1 L539.24,578.2 L539.63,578.29 L540.02,578.39 L540.41,578.48 L540.8,578.57 L541.19,578.66 L541.58,578.74 L541.97,578.83 L542.36,578.91 L542.75,578.99 L543.14,579.06 L543.53,579.14 L543.92,579.21 L544.31,579.27 L544.7,579.34 L545.09,579.39 L545.48,579.45 L545.87,579.51 L546.26,579.57 L546.65,579.62 L547.04,579.68 L547.43,579.74 L547.82,579.8 L548.22,579.85 L548.61,579.9 L549,579.95 L549.39,580 L549.78,580.05 L550.17,580.09 L550.56,580.13 L550.95,580.16 L551.34,580.19 L551.73,580.21 L552.12,580.23 L552.51,580.24 L552.9,580.24 L553.29,580.23 L553.68,580.19 L554.07,580.11 L554.46,580 L554.85,579.87 L555.24,579.71 L555.63,579.53 L556.02,579.33 L556.41,579.12 L556.8,578.89 L557.19,578.65 L557.59,578.41 L557.98,578.16 L558.37,577.89 L558.76,577.56 L559.15,577.17 L559.54,576.71 L559.93,576.2 L560.32,575.64 L560.71,575.06 L561.1,574.46 L561.49,573.85 L561.88,573.24 L562.27,572.64 L562.66,572.06 L563.05,571.51 L563.44,570.99 L563.83,570.49 L564.22,569.99 L564.61,569.49 L565,568.99 L565.39,568.49 L565.78,568.01 L566.17,567.55 L566.56,567.1 L566.96,566.67 L567.35,566.28 L567.74,565.85 L568.13,565.41 L568.52,564.97 L568.91,564.59 L569.3,564.3 L569.69,564.13 L570.08,564.12 L570.47,564.21 L570.86,564.38 L571.25,564.6 L571.64,564.86 L572.03,565.15 L572.42,565.45 L572.81,565.75 L573.2,566.02 L573.59,566.24 L573.98,566.43 L574.37,566.6 L574.76,566.76 L575.15,566.92 L575.54,567.07 L575.93,567.22 L576.33,567.36 L576.72,567.5 L577.11,567.64 L577.5,567.78 L577.89,567.91 L578.28,568.04 L578.67,568.17 L579.06,568.29 L579.45,568.42 L579.84,568.55 L580.23,568.67 L580.62,568.8 L581.01,568.93 L581.4,569.06 L581.79,569.19 L582.18,569.32 L582.57,569.46 L582.96,569.59 L583.35,569.73 L583.74,569.86 L584.13,570 L584.52,570.13 L584.91,570.27 L585.3,570.4 L585.7,570.53 L586.09,570.66 L586.48,570.78 L586.87,570.91 L587.26,571.03 L587.65,571.15 L588.04,571.26 L588.43,571.37 L588.82,571.48 L589.21,571.58 L589.6,571.68 L589.99,571.77 L590.38,571.87 L590.77,571.96 L591.16,572.06 L591.55,572.15 L591.94,572.24 L592.33,572.33 L592.72,572.41 L593.11,572.5 L593.5,572.59 L593.89,572.67 L594.28,572.76 L594.67,572.84 L595.07,572.92 L595.46,573 L595.85,573.08 L596.24,573.16 L596.63,573.24 L597.02,573.31 L597.41,573.39 L597.8,573.46 L598.19,573.54 L598.58,573.61 L598.97,573.68 L599.36,573.75 L599.75,573.82 L600.14,573.89 L600.53,573.96 L600.92,574.03 L601.31,574.09 L601.7,574.16 L602.09,574.22 L602.48,574.29 L602.87,574.35 L603.26,574.41 L603.65,574.48 L604.04,574.54 L604.44,574.6 L604.83,574.66 L605.22,574.72 L605.61,574.78 L606,574.84 L606.39,574.91 L606.78,574.97 L607.17,575.03 L607.56,575.1 L607.95,575.16 L608.34,575.23 L608.73,575.3 L609.12,575.36 L609.51,575.43 L609.9,575.49 L610.29,575.56 L610.68,575.62 L611.07,575.69 L611.46,575.75 L611.85,575.81 L612.24,575.87 L612.63,575.93 L613.02,575.99 L613.41,576.05 L613.81,576.1 L614.2,576.15 L614.59,576.2 L614.98,576.25 L615.37,576.3 L615.76,576.34 L616.15,576.38 L616.54,576.42 L616.93,576.46 L617.32,576.49 L617.71,576.52 L618.1,576.55 L618.49,576.57 L618.88,576.59 L619.27,576.61 L619.66,576.62 L620.05,576.62 L620.44,576.63 L620.83,576.63 L621.22,576.62 L621.61,576.62 L622,576.61 L622.39,576.6 L622.78,576.58 L623.17,576.57 L623.57,576.55 L623.96,576.53 L624.35,576.5 L624.74,576.48 L625.13,576.45 L625.52,576.42 L625.91,576.39 L626.3,576.36 L626.69,576.32 L627.08,576.29 L627.47,576.25 L627.86,576.21 L628.25,576.17 L628.64,576.13 L629.03,576.09 L629.42,576.05 L629.81,576 L630.2,575.96 L630.59,575.91 L630.98,575.87 L631.37,575.82 L631.76,575.77 L632.15,575.72 L632.54,575.68 L632.94,575.63 L633.33,575.58 L633.72,575.53 L634.11,575.48 L634.5,575.44 L634.89,575.39 L635.28,575.34 L635.67,575.3 L636.06,575.25 L636.45,575.2 L636.84,575.16 L637.23,575.11 L637.62,575.06 L638.01,575.01 L638.4,574.96 L638.79,574.91 L639.18,574.85 L639.57,574.8 L639.96,574.74 L640.35,574.69 L640.74,574.63 L641.13,574.57 L641.52,574.51 L641.91,574.44 L642.31,574.38 L642.7,574.31 L643.09,574.25 L643.48,574.18 L643.87,574.11 L644.26,574.03 L644.65,573.96 L645.04,573.88 L645.43,573.81 L645.82,573.73 L646.21,573.64 L646.6,573.56 L646.99,573.47 L647.38,573.38 L647.77,573.29 L648.16,573.2 L648.55,573.1 L648.94,573 L649.33,572.89 L649.72,572.78 L650.11,572.67 L650.5,572.55 L650.89,572.43 L651.28,572.3 L651.68,572.16 L652.07,572.02 L652.46,571.87 L652.85,571.72 L653.24,571.56 L653.63,571.39 L654.02,571.22 L654.41,571.04 L654.8,570.84 L655.19,570.62 L655.58,570.38 L655.97,570.12 L656.36,569.84 L656.75,569.54 L657.14,569.23 L657.53,568.89 L657.92,568.54 L658.31,568.17 L658.7,567.78 L659.09,567.38 L659.48,566.97 L659.87,566.53 L660.26,566.04 L660.65,565.52 L661.05,564.96 L661.44,564.36 L661.83,563.72 L662.22,563.05 L662.61,562.35 L663,561.62 L663.39,560.85 L663.78,560.06 L664.17,559.25 L664.56,558.41 L664.95,557.54 L665.34,556.59 L665.73,555.56 L666.12,554.46 L666.51,553.3 L666.9,552.09 L667.29,550.84 L667.68,549.55 L668.07,548.24 L668.46,546.91 L668.85,545.57 L669.24,544.24 L669.63,542.91 L670.02,541.6 L670.42,540.19 L670.81,538.67 L671.2,537.08 L671.59,535.46 L671.98,533.87 L672.37,532.34 L672.76,530.92 L673.15,529.66 L673.54,528.61 L673.93,527.8 L674.32,527.06 L674.71,526.36 L675.1,525.77 L675.49,525.35 L675.88,525.18 L676.27,525.46 L676.66,526.35 L677.05,527.72 L677.44,529.4 L677.83,531.23 L678.22,533.08 L678.61,534.78 L679,536.18 L679.39,537.33 L679.79,538.44 L680.18,539.51 L680.57,540.55 L680.96,541.55 L681.35,542.52 L681.74,543.45 L682.13,544.33 L682.52,545.17 L682.91,545.97 L683.3,546.74 L683.69,547.49 L684.08,548.23 L684.47,548.96 L684.86,549.66 L685.25,550.34 L685.64,551 L686.03,551.62 L686.42,552.22 L686.81,552.78 L687.2,553.3 L687.59,553.78 L687.98,554.22 L688.37,554.62 L688.76,555.02 L689.16,555.41 L689.55,555.81 L689.94,556.21 L690.33,556.59 L690.72,556.97 L691.11,557.34 L691.5,557.69 L691.89,558.02 L692.28,558.34 L692.67,558.63 L693.06,558.91 L693.45,559.15 L693.84,559.37 L694.23,559.55 L694.62,559.71 L695.01,559.82 L695.4,559.9 L695.79,559.94 L696.18,559.94 L696.57,559.94 L696.96,559.94 L697.35,559.94 L697.74,559.94 L698.13,559.94 L698.53,559.94 L698.92,559.94 L699.31,559.94 L699.7,559.94 L700.09,559.94 L700.48,559.94 L700.87,559.94 L701.26,559.94 L701.65,559.94 L702.04,559.94 L702.43,559.94 L702.82,559.94 L703.21,559.94 L703.6,559.94 L703.99,559.94 L704.38,559.94 L704.77,559.94 L705.16,559.94 L705.55,559.94 L705.94,559.94 L706.33,559.94 L706.72,559.94 L707.11,559.93 L707.5,559.93 L707.89,559.92 L708.29,559.9 L708.68,559.89 L709.07,559.87 L709.46,559.85 L709.85,559.83 L710.24,559.8 L710.63,559.78 L711.02,559.75 L711.41,559.72 L711.8,559.69 L712.19,559.66 L712.58,559.63 L712.97,559.6 L713.36,559.56 L713.75,559.53 L714.14,559.5 L714.53,559.46 L714.92,559.43 L715.31,559.39 L715.7,559.36 L716.09,559.33 L716.48,559.3 L716.87,559.27 L717.26,559.24 L717.66,559.21 L718.05,559.18 L718.44,559.16 L718.83,559.13 L719.22,559.11 L719.61,559.09 L720,559.07 L720.39,559.05 L720.78,559.03 L721.17,559.02 L721.56,559 L721.95,558.98 L722.34,558.96 L722.73,558.94 L723.12,558.93 L723.51,558.91 L723.9,558.89 L724.29,558.88 L724.68,558.86 L725.07,558.85 L725.46,558.83 L725.85,558.81 L726.24,558.8 L726.63,558.78 L727.03,558.77 L727.42,558.75 L727.81,558.73 L728.2,558.72 L728.59,558.7 L728.98,558.69 L729.37,558.67 L729.76,558.66 L730.15,558.64 L730.54,558.62 L730.93,558.61 L731.32,558.59 L731.71,558.58 L732.1,558.56 L732.49,558.54 L732.88,558.53 L733.27,558.51 L733.66,558.49 L734.05,558.47 L734.44,558.45 L734.83,558.43 L735.22,558.4 L735.61,558.38 L736,558.36 L736.4,558.34 L736.79,558.32 L737.18,558.29 L737.57,558.27 L737.96,558.25 L738.35,558.23 L738.74,558.21 L739.13,558.19 L739.52,558.17 L739.91,558.15 L740.3,558.13 L740.69,558.11 L741.08,558.09 L741.47,558.08 L741.86,558.06 L742.25,558.05 L742.64,558.04 L743.03,558.03 L743.42,558.02 L743.81,558.01 L744.2,558 L744.59,558 L744.98,557.99 L745.37,557.99 L745.77,558.01 L746.16,558.03 L746.55,558.08 L746.94,558.14 L747.33,558.21 L747.72,558.3 L748.11,558.4 L748.5,558.51 L748.89,558.63 L749.28,558.76 L749.67,558.9 L750.06,559.04 L750.45,559.2 L750.84,559.35 L751.23,559.51 L751.62,559.68 L752.01,559.84 L752.4,560.01 L752.79,560.18 L753.18,560.34 L753.57,560.51 L753.96,560.67 L754.35,560.83 L754.74,560.98 L755.14,561.13 L755.53,561.27 L755.92,561.4 L756.31,561.54 L756.7,561.68 L757.09,561.83 L757.48,561.98 L757.87,562.13 L758.26,562.28 L758.65,562.44 L759.04,562.59 L759.43,562.75 L759.82,562.9 L760.21,563.05 L760.6,563.2 L760.99,563.34 L761.38,563.48 L761.77,563.61 L762.16,563.74 L762.55,563.86 L762.94,563.97 L763.33,564.07 L763.72,564.16 L764.11,564.25 L764.51,564.34 L764.9,564.43 L765.29,564.51 L765.68,564.59 L766.07,564.67 L766.46,564.75 L766.85,564.83 L767.24,564.9 L767.63,564.97 L768.02,565.04 L768.41,565.1 L768.8,565.16 L769.19,565.22 L769.58,565.28 L769.97,565.34 L770.36,565.39 L770.75,565.44 L771.14,565.48 L771.53,565.53 L771.92,565.57 L772.31,565.6 L772.7,565.64 L773.09,565.67 L773.48,565.7 L773.88,565.72 L774.27,565.75 L774.66,565.77 L775.05,565.79 L775.44,565.81 L775.83,565.83 L776.22,565.85 L776.61,565.88 L777,565.9 L777.39,565.92 L777.78,565.94 L778.17,565.97 L778.56,566 L778.95,566.03 L779.34,566.06 L779.73,566.1 L780.12,566.14 L780.51,566.18 L780.9,566.23 L781.29,566.28 L781.68,566.33 L782.07,566.41 L782.46,566.53 L782.85,566.69 L783.25,566.89 L783.64,567.12 L784.03,567.37 L784.42,567.66 L784.81,567.97 L785.2,568.3 L785.59,568.65 L785.98,569.01 L786.37,569.38 L786.76,569.77 L787.15,570.16 L787.54,570.55 L787.93,570.94 L788.32,571.33 L788.71,571.71 L789.1,572.09 L789.49,572.45 L789.88,572.8 L790.27,573.17 L790.66,573.54 L791.05,573.92 L791.44,574.3 L791.83,574.69 L792.22,575.09 L792.62,575.5 L793.01,575.91 L793.4,576.32 L793.79,576.75 L794.18,577.17 L794.57,577.61 L794.96,578.05 L795.35,578.49 L795.74,578.95 L796.13,579.4 L796.52,579.86 L796.91,580.33 L797.3,580.8" fill="none" stroke="#3cdc3c" stroke-width="1.25" stroke-linejoin="round" stroke-linecap="round" />
<path d="M524.4,580.8 L524.79,579.64 L525.18,578.57 L525.57,577.6 L525.96,576.75 L526.35,576.01 L526.74,575.35 L527.13,574.7 L527.52,574.16 L527.91,573.87 L528.3,573.87 L528.69,573.99 L529.08,574.17 L529.48,574.4 L529.87,574.65 L530.26,574.9 L530.65,575.12 L531.04,575.29 L531.43,575.45 L531.82,575.61 L532.21,575.76 L532.6,575.91 L532.99,576.06 L533.38,576.2 L533.77,576.34 L534.16,576.47 L534.55,576.61 L534.94,576.74 L535.33,576.86 L535.72,576.98 L536.11,577.1 L536.5,577.22 L536.89,577.33 L537.28,577.43 L537.67,577.54 L538.06,577.64 L538.45,577.73 L538.85,577.83 L539.24,577.92 L539.63,578.01 L540.02,578.1 L540.41,578.19 L540.8,578.27 L541.19,578.36 L541.58,578.44 L541.97,578.52 L542.36,578.6 L542.75,578.67 L543.14,578.75 L543.53,578.82 L543.92,578.9 L544.31,578.97 L544.7,579.04 L545.09,579.11 L545.48,579.18 L545.87,579.25 L546.26,579.32 L546.65,579.38 L547.04,579.45 L547.43,579.51 L547.82,579.57 L548.22,579.63 L548.61,579.7 L549,579.75 L549.39,579.81 L549.78,579.87 L550.17,579.93 L550.56,579.99 L550.95,580.06 L551.34,580.13 L551.73,580.2 L552.12,580.28 L552.51,580.35 L552.9,580.41 L553.29,580.46 L553.68,580.5 L554.07,580.52 L554.46,580.52 L554.85,580.45 L555.24,580.33 L555.63,580.15 L556.02,579.93 L556.41,579.65 L556.8,579.34 L557.19,579 L557.59,578.63 L557.98,578.24 L558.37,577.81 L558.76,577.24 L559.15,576.52 L559.54,575.64 L559.93,574.62 L560.32,573.47 L560.71,572.2 L561.1,570.82 L561.49,569.34 L561.88,567.76 L562.27,566.05 L562.66,563.91 L563.05,561.33 L563.44,558.4 L563.83,555.17 L564.22,551.72 L564.61,548.11 L565,543.58 L565.39,537.44 L565.78,531.26 L566.17,526.65 L566.56,525.24 L566.96,528.35 L567.35,534.33 L567.74,540.74 L568.13,545.16 L568.52,548.24 L568.91,551.09 L569.3,553.66 L569.69,555.92 L570.08,557.83 L570.47,559.35 L570.86,560.47 L571.25,561.46 L571.64,562.35 L572.03,563.14 L572.42,563.83 L572.81,564.43 L573.2,564.93 L573.59,565.34 L573.98,565.66 L574.37,565.95 L574.76,566.22 L575.15,566.47 L575.54,566.71 L575.93,566.92 L576.33,567.12 L576.72,567.31 L577.11,567.48 L577.5,567.65 L577.89,567.81 L578.28,567.95 L578.67,568.1 L579.06,568.23 L579.45,568.37 L579.84,568.5 L580.23,568.64 L580.62,568.77 L581.01,568.91 L581.4,569.05 L581.79,569.2 L582.18,569.35 L582.57,569.49 L582.96,569.63 L583.35,569.77 L583.74,569.91 L584.13,570.05 L584.52,570.18 L584.91,570.31 L585.3,570.44 L585.7,570.57 L586.09,570.69 L586.48,570.81 L586.87,570.93 L587.26,571.05 L587.65,571.16 L588.04,571.27 L588.43,571.38 L588.82,571.48 L589.21,571.58 L589.6,571.68 L589.99,571.77 L590.38,571.87 L590.77,571.96 L591.16,572.06 L591.55,572.15 L591.94,572.24 L592.33,572.33 L592.72,572.41 L593.11,572.5 L593.5,572.59 L593.89,572.67 L594.28,572.76 L594.67,572.84 L595.07,572.92 L595.46,573 L595.85,573.08 L596.24,573.16 L596.63,573.24 L597.02,573.31 L597.41,573.39 L597.8,573.46 L598.19,573.54 L598.58,573.61 L598.97,573.68 L599.36,573.75 L599.75,573.82 L600.14,573.89 L600.53,573.96 L600.92,574.03 L601.31,574.09 L601.7,574.16 L602.09,574.22 L602.48,574.29 L602.87,574.35 L603.26,574.41 L603.65,574.48 L604.04,574.54 L604.44,574.6 L604.83,574.66 L605.22,574.72 L605.61,574.78 L606,574.84 L606.39,574.91 L606.78,574.97 L607.17,575.03 L607.56,575.1 L607.95,575.16 L608.34,575.23 L608.73,575.3 L609.12,575.36 L609.51,575.43 L609.9,575.49 L610.29,575.56 L610.68,575.62 L611.07,575.69 L611.46,575.75 L611.85,575.81 L612.24,575.87 L612.63,575.93 L613.02,575.99 L613.41,576.05 L613.81,576.1 L614.2,576.15 L614.59,576.2 L614.98,576.25 L615.37,576.3 L615.76,576.34 L616.15,576.38 L616.54,576.42 L616.93,576.46 L617.32,576.49 L617.71,576.52 L618.1,576.55 L618.49,576.57 L618.88,576.59 L619.27,576.61 L619.66,576.62 L620.05,576.62 L620.44,576.63 L620.83,576.63 L621.22,576.62 L621.61,576.62 L622,576.61 L622.39,576.6 L622.78,576.58 L623.17,576.57 L623.57,576.55 L623.96,576.53 L624.35,576.5 L624.74,576.48 L625.13,576.45 L625.52,576.42 L625.91,576.39 L626.3,576.36 L626.69,576.32 L627.08,576.29 L627.47,576.25 L627.86,576.21 L628.25,576.17 L628.64,576.13 L629.03,576.09 L629.42,576.05 L629.81,576 L630.2,575.96 L630.59,575.91 L630.98,575.87 L631.37,575.82 L631.76,575.77 L632.15,575.72 L632.54,575.68 L632.94,575.63 L633.33,575.58 L633.72,575.53 L634.11,575.48 L634.5,575.44 L634.89,575.39 L635.28,575.34 L635.67,575.3 L636.06,575.25 L636.45,575.2 L636.84,575.16 L637.23,575.11 L637.62,575.06 L638.01,575 L638.4,574.95 L638.79,574.9 L639.18,574.84 L639.57,574.78 L639.96,574.73 L640.35,574.67 L640.74,574.61 L641.13,574.54 L641.52,574.48 L641.91,574.42 L642.31,574.35 L642.7,574.28 L643.09,574.22 L643.48,574.15 L643.87,574.08 L644.26,574.01 L644.65,573.93 L645.04,573.86 L645.43,573.79 L645.82,573.71 L646.21,573.64 L646.6,573.56 L646.99,573.48 L647.38,573.4 L647.77,573.32 L648.16,573.24 L648.55,573.15 L648.94,573.07 L649.33,572.98 L649.72,572.89 L650.11,572.8 L650.5,572.7 L650.89,572.6 L651.28,572.5 L651.68,572.4 L652.07,572.3 L652.46,572.19 L652.85,572.08 L653.24,571.96 L653.63,571.85 L654.02,571.73 L654.41,571.6 L654.8,571.48 L655.19,571.34 L655.58,571.2 L655.97,571.05 L656.36,570.9 L656.75,570.74 L657.14,570.58 L657.53,570.41 L657.92,570.24 L658.31,570.06 L658.7,569.89 L659.09,569.7 L659.48,569.52 L659.87,569.33 L660.26,569.14 L660.65,568.95 L661.05,568.75 L661.44,568.56 L661.83,568.36 L662.22,568.17 L662.61,567.97 L663,567.77 L663.39,567.57 L663.78,567.38 L664.17,567.18 L664.56,566.99 L664.95,566.79 L665.34,566.59 L665.73,566.39 L666.12,566.17 L666.51,565.96 L666.9,565.74 L667.29,565.51 L667.68,565.29 L668.07,565.06 L668.46,564.84 L668.85,564.61 L669.24,564.39 L669.63,564.17 L670.02,563.95 L670.42,563.74 L670.81,563.54 L671.2,563.34 L671.59,563.15 L671.98,562.97 L672.37,562.8 L672.76,562.63 L673.15,562.46 L673.54,562.29 L673.93,562.11 L674.32,561.93 L674.71,561.75 L675.1,561.57 L675.49,561.4 L675.88,561.24 L676.27,561.08 L676.66,560.95 L677.05,560.82 L677.44,560.71 L677.83,560.62 L678.22,560.56 L678.61,560.51 L679,560.5 L679.39,560.5 L679.79,560.51 L680.18,560.52 L680.57,560.53 L680.96,560.55 L681.35,560.58 L681.74,560.6 L682.13,560.64 L682.52,560.67 L682.91,560.71 L683.3,560.74 L683.69,560.79 L684.08,560.83 L684.47,560.87 L684.86,560.92 L685.25,560.97 L685.64,561.02 L686.03,561.07 L686.42,561.12 L686.81,561.16 L687.2,561.21 L687.59,561.26 L687.98,561.31 L688.37,561.36 L688.76,561.42 L689.16,561.48 L689.55,561.56 L689.94,561.64 L690.33,561.72 L690.72,561.81 L691.11,561.9 L691.5,562 L691.89,562.1 L692.28,562.19 L692.67,562.29 L693.06,562.39 L693.45,562.49 L693.84,562.59 L694.23,562.68 L694.62,562.77 L695.01,562.85 L695.4,562.93 L695.79,563.01 L696.18,563.07 L696.57,563.13 L696.96,563.18 L697.35,563.22 L697.74,563.25 L698.13,563.27 L698.53,563.28 L698.92,563.27 L699.31,563.25 L699.7,563.22 L700.09,563.17 L700.48,563.12 L700.87,563.05 L701.26,562.97 L701.65,562.89 L702.04,562.79 L702.43,562.69 L702.82,562.59 L703.21,562.48 L703.6,562.36 L703.99,562.24 L704.38,562.12 L704.77,562 L705.16,561.87 L705.55,561.75 L705.94,561.62 L706.33,561.5 L706.72,561.38 L707.11,561.26 L707.5,561.14 L707.89,561.04 L708.29,560.93 L708.68,560.83 L709.07,560.74 L709.46,560.66 L709.85,560.57 L710.24,560.48 L710.63,560.4 L711.02,560.31 L711.41,560.23 L711.8,560.15 L712.19,560.06 L712.58,559.98 L712.97,559.9 L713.36,559.82 L713.75,559.74 L714.14,559.66 L714.53,559.57 L714.92,559.49 L715.31,559.41 L715.7,559.33 L716.09,559.25 L716.48,559.16 L716.87,559.08 L717.26,559 L717.66,558.92 L718.05,558.83 L718.44,558.75 L718.83,558.66 L719.22,558.57 L719.61,558.49 L720,558.39 L720.39,558.29 L720.78,558.19 L721.17,558.08 L721.56,557.97 L721.95,557.85 L722.34,557.73 L722.73,557.61 L723.12,557.49 L723.51,557.37 L723.9,557.25 L724.29,557.13 L724.68,557.01 L725.07,556.9 L725.46,556.78 L725.85,556.67 L726.24,556.56 L726.63,556.46 L727.03,556.36 L727.42,556.27 L727.81,556.18 L728.2,556.1 L728.59,556.02 L728.98,555.96 L729.37,555.9 L729.76,555.86 L730.15,555.82 L730.54,555.79 L730.93,555.77 L731.32,555.77 L731.71,555.77 L732.1,555.77 L732.49,555.78 L732.88,555.78 L733.27,555.79 L733.66,555.8 L734.05,555.81 L734.44,555.83 L734.83,555.84 L735.22,555.86 L735.61,555.88 L736,555.9 L736.4,555.92 L736.79,555.94 L737.18,555.96 L737.57,555.99 L737.96,556.02 L738.35,556.05 L738.74,556.08 L739.13,556.11 L739.52,556.14 L739.91,556.17 L740.3,556.21 L740.69,556.24 L741.08,556.28 L741.47,556.32 L741.86,556.36 L742.25,556.4 L742.64,556.44 L743.03,556.49 L743.42,556.53 L743.81,556.58 L744.2,556.63 L744.59,556.7 L744.98,556.79 L745.37,556.89 L745.77,557.02 L746.16,557.17 L746.55,557.32 L746.94,557.49 L747.33,557.68 L747.72,557.87 L748.11,558.07 L748.5,558.28 L748.89,558.5 L749.28,558.72 L749.67,558.94 L750.06,559.16 L750.45,559.39 L750.84,559.61 L751.23,559.82 L751.62,560.04 L752.01,560.24 L752.4,560.44 L752.79,560.63 L753.18,560.8 L753.57,560.98 L753.96,561.17 L754.35,561.37 L754.74,561.58 L755.14,561.78 L755.53,561.99 L755.92,562.2 L756.31,562.41 L756.7,562.62 L757.09,562.82 L757.48,563.01 L757.87,563.19 L758.26,563.36 L758.65,563.53 L759.04,563.67 L759.43,563.8 L759.82,563.91 L760.21,564 L760.6,564.07 L760.99,564.12 L761.38,564.16 L761.77,564.19 L762.16,564.23 L762.55,564.26 L762.94,564.3 L763.33,564.33 L763.72,564.36 L764.11,564.39 L764.51,564.42 L764.9,564.44 L765.29,564.47 L765.68,564.49 L766.07,564.52 L766.46,564.54 L766.85,564.56 L767.24,564.58 L767.63,564.59 L768.02,564.61 L768.41,564.62 L768.8,564.63 L769.19,564.64 L769.58,564.65 L769.97,564.66 L770.36,564.66 L770.75,564.67 L771.14,564.67 L771.53,564.67 L771.92,564.67 L772.31,564.66 L772.7,564.66 L773.09,564.65 L773.48,564.64 L773.88,564.63 L774.27,564.61 L774.66,564.6 L775.05,564.59 L775.44,564.57 L775.83,564.56 L776.22,564.54 L776.61,564.53 L777,564.51 L777.39,564.49 L777.78,564.48 L778.17,564.47 L778.56,564.45 L778.95,564.44 L779.34,564.43 L779.73,564.42 L780.12,564.41 L780.51,564.4 L780.9,564.4 L781.29,564.39 L781.68,564.39 L782.07,564.4 L782.46,564.44 L782.85,564.5 L783.25,564.59 L783.64,564.69 L784.03,564.82 L784.42,564.96 L784.81,565.12 L785.2,565.29 L785.59,565.48 L785.98,565.67 L786.37,565.87 L786.76,566.09 L787.15,566.3 L787.54,566.52 L787.93,566.74 L788.32,566.96 L788.71,567.21 L789.1,567.48 L789.49,567.79 L789.88,568.12 L790.27,568.49 L790.66,568.87 L791.05,569.29 L791.44,569.72 L791.83,570.18 L792.22,570.66 L792.62,571.19 L793.01,571.76 L793.4,572.39 L793.79,573.05 L794.18,573.76 L794.57,574.52 L794.96,575.31 L795.35,576.14 L795.74,577.01 L796.13,577.91 L796.52,578.84 L796.91,579.81 L797.3,580.8" fill="none" stroke="#2222b0" stroke-width="1.45" stroke-linejoin="round" stroke-linecap="round" />
<line x1="589.38" y1="580.8" x2="589.38" y2="578.3" stroke="#000" stroke-width="1"/>
<line x1="589.38" y1="358.3" x2="589.38" y2="360.8" stroke="#000" stroke-width="1"/>
<line x1="654.35" y1="580.8" x2="654.35" y2="578.3" stroke="#000" stroke-width="1"/>
<line x1="654.35" y1="358.3" x2="654.35" y2="360.8" stroke="#000" stroke-width="1"/>
<line x1="719.33" y1="580.8" x2="719.33" y2="578.3" stroke="#000" stroke-width="1"/>
<line x1="719.33" y1="358.3" x2="719.33" y2="360.8" stroke="#000" stroke-width="1"/>
<line x1="524.4" y1="552.99" x2="526.9" y2="552.99" stroke="#000" stroke-width="1"/>
<line x1="797.3" y1="552.99" x2="794.8" y2="552.99" stroke="#000" stroke-width="1"/>
<line x1="524.4" y1="525.17" x2="526.9" y2="525.17" stroke="#000" stroke-width="1"/>
<line x1="797.3" y1="525.17" x2="794.8" y2="525.17" stroke="#000" stroke-width="1"/>
<line x1="524.4" y1="497.36" x2="526.9" y2="497.36" stroke="#000" stroke-width="1"/>
<line x1="797.3" y1="497.36" x2="794.8" y2="497.36" stroke="#000" stroke-width="1"/>
<line x1="524.4" y1="469.55" x2="526.9" y2="469.55" stroke="#000" stroke-width="1"/>
<line x1="797.3" y1="469.55" x2="794.8" y2="469.55" stroke="#000" stroke-width="1"/>
<line x1="524.4" y1="441.74" x2="526.9" y2="441.74" stroke="#000" stroke-width="1"/>
<line x1="797.3" y1="441.74" x2="794.8" y2="441.74" stroke="#000" stroke-width="1"/>
<line x1="524.4" y1="413.93" x2="526.9" y2="413.93" stroke="#000" stroke-width="1"/>
<line x1="797.3" y1="413.93" x2="794.8" y2="413.93" stroke="#000" stroke-width="1"/>
<line x1="524.4" y1="386.11" x2="526.9" y2="386.11" stroke="#000" stroke-width="1"/>
<line x1="797.3" y1="386.11" x2="794.8" y2="386.11" stroke="#000" stroke-width="1"/>
<rect x="524.4" y="358.3" width="272.9" height="222.49999999999994" fill="none" stroke="#000" stroke-width="1.3"/>
<text x="524.4" y="592.6" font-size="8.0" text-anchor="middle" font-weight="normal" fill="#333" font-family='"Liberation Sans", sans-serif' >1.25</text>
<text x="589.38" y="592.6" font-size="8.0" text-anchor="middle" font-weight="normal" fill="#333" font-family='"Liberation Sans", sans-serif' >1.5</text>
<text x="654.35" y="592.6" font-size="8.0" text-anchor="middle" font-weight="normal" fill="#333" font-family='"Liberation Sans", sans-serif' >1.75</text>
<text x="719.33" y="592.6" font-size="8.0" text-anchor="middle" font-weight="normal" fill="#333" font-family='"Liberation Sans", sans-serif' >2</text>
<text x="797.3" y="592.6" font-size="8.0" text-anchor="middle" font-weight="normal" fill="#333" font-family='"Liberation Sans", sans-serif' >2.3</text>
<text x="520.4" y="583.7" font-size="8.0" text-anchor="end" font-weight="normal" fill="#333" font-family='"Liberation Sans", sans-serif' >0</text>
<text x="520.4" y="555.89" font-size="8.0" text-anchor="end" font-weight="normal" fill="#333" font-family='"Liberation Sans", sans-serif' >0.1</text>
<text x="520.4" y="528.07" font-size="8.0" text-anchor="end" font-weight="normal" fill="#333" font-family='"Liberation Sans", sans-serif' >0.2</text>
<text x="520.4" y="500.26" font-size="8.0" text-anchor="end" font-weight="normal" fill="#333" font-family='"Liberation Sans", sans-serif' >0.3</text>
<text x="520.4" y="472.45" font-size="8.0" text-anchor="end" font-weight="normal" fill="#333" font-family='"Liberation Sans", sans-serif' >0.4</text>
<text x="520.4" y="444.64" font-size="8.0" text-anchor="end" font-weight="normal" fill="#333" font-family='"Liberation Sans", sans-serif' >0.5</text>
<text x="520.4" y="416.82" font-size="8.0" text-anchor="end" font-weight="normal" fill="#333" font-family='"Liberation Sans", sans-serif' >0.6</text>
<text x="520.4" y="389.01" font-size="8.0" text-anchor="end" font-weight="normal" fill="#333" font-family='"Liberation Sans", sans-serif' >0.7</text>
<text x="520.4" y="361.2" font-size="8.0" text-anchor="end" font-weight="normal" fill="#333" font-family='"Liberation Sans", sans-serif' >0.8</text>
<text x="661.35" y="606" font-size="9.2" text-anchor="middle" font-weight="normal" fill="#333" font-family='"Liberation Sans", sans-serif' >Frequency (Hz)</text>
<text x="0" y="0" font-size="8.8" text-anchor="middle" font-weight="normal" fill="#333" font-family='"Liberation Sans", sans-serif' transform="translate(502.6,468.05) rotate(-90) scale(1.13,1)">Acceleration (m/s<tspan font-size="6" dy="-3.4">2</tspan><tspan dy="3.4">)</tspan></text>
<text x="661.35" y="354" font-size="9.1" text-anchor="middle" font-weight="bold" fill="#222" font-family='"Liberation Sans", sans-serif' >HR Verticale X=3L/4</text>
<rect x="530.5" y="364.6" width="72.2" height="35" fill="#fff" stroke="#000" stroke-width="1.2"/>
<line x1="533" y1="371.8" x2="557.5" y2="371.8" stroke="#111" stroke-width="1.3"/>
<text x="559.5" y="374.5" font-size="7.7" text-anchor="start" font-weight="normal" fill="#222" font-family='"Liberation Sans", sans-serif' >Senza TMD</text>
<line x1="533" y1="382.8" x2="557.5" y2="382.8" stroke="#3cdc3c" stroke-width="1.3"/>
<text x="559.5" y="385.5" font-size="7.7" text-anchor="start" font-weight="normal" fill="#222" font-family='"Liberation Sans", sans-serif' >mbym</text>
<line x1="533" y1="394.1" x2="557.5" y2="394.1" stroke="#2222b0" stroke-width="1.5"/>
<text x="559.5" y="396.8" font-size="7.7" text-anchor="start" font-weight="normal" fill="#222" font-family='"Liberation Sans", sans-serif' >3 TMD</text>
</svg>
</div></body></html>
